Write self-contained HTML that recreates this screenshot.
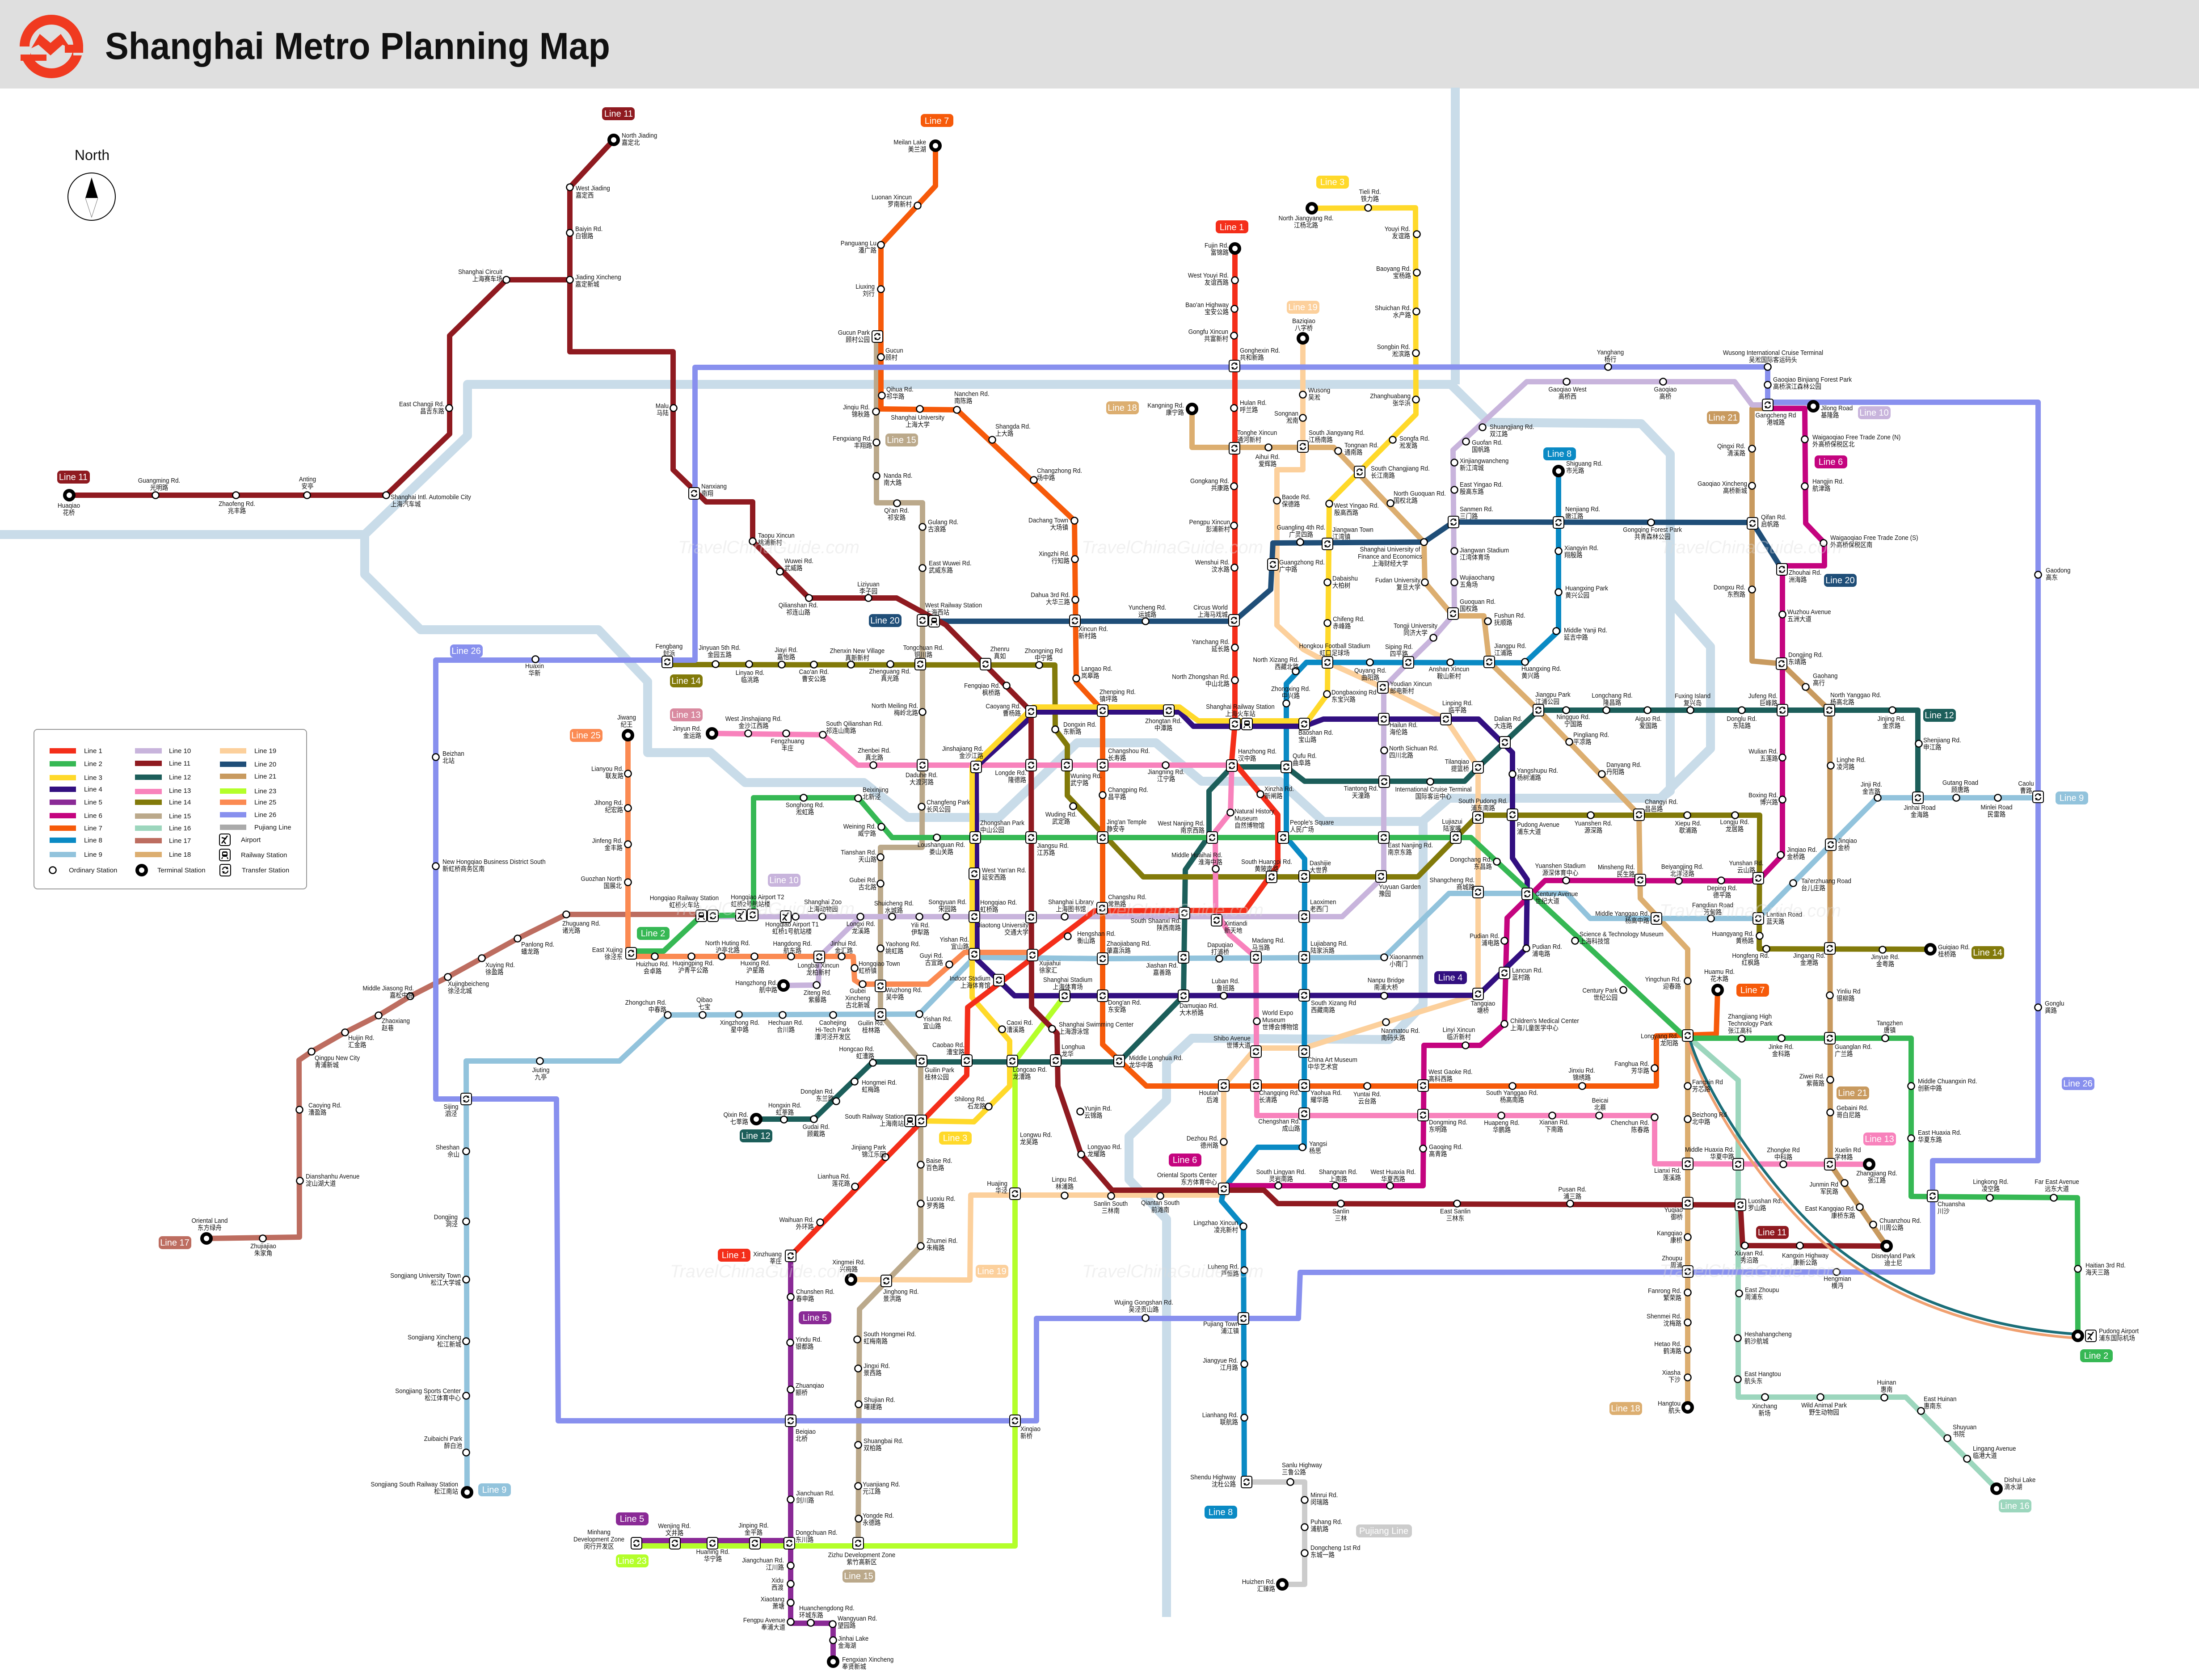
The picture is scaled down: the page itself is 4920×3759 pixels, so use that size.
<!DOCTYPE html>
<html lang="en"><head><meta charset="utf-8"><title>Shanghai Metro Planning Map</title>
<style>
html,body{margin:0;padding:0;background:#fff}
svg{display:block}
text{font-family:"Liberation Sans","Noto Sans CJK SC",sans-serif;font-size:15px;fill:#111;transform-box:fill-box;transform:scaleX(.9);transform-origin:0 50%}
.m{text-anchor:middle;transform-origin:50% 50%}.e{text-anchor:end;transform-origin:100% 50%}
.b text{font-size:20px;fill:#fff;text-anchor:middle;transform:none}
.l path{fill:none;stroke-width:12;stroke-linejoin:round;stroke-linecap:round}
.w text{font-style:italic;font-size:40px;fill:#ddd;fill-opacity:.4;text-anchor:middle;transform:none}
.k text{font-size:15px;transform:none}
</style></head><body>
<svg xmlns="http://www.w3.org/2000/svg" width="4920" height="3759" viewBox="0 0 4920 3759">
<defs>
<circle id="o" r="7.5" fill="#fff" stroke="#000" stroke-width="2.6"/>
<circle id="t" r="10" fill="#fff" stroke="#000" stroke-width="8"/>
<g id="x"><rect x="-12" y="-13" width="24" height="26" rx="4" fill="#fff" stroke="#000" stroke-width="2"/><path d="M-6-1A6 6 0 0 1 5-4M6 1A6 6 0 0 1-5 4" fill="none" stroke="#000" stroke-width="2.4"/><path d="M5-8 7-2 1-3ZM-5 8-7 2-1 3Z"/></g>
<g id="r"><rect x="-12" y="-13" width="24" height="26" rx="4" fill="#fff" stroke="#000" stroke-width="2"/><rect x="-6" y="-8" width="12" height="12" rx="3"/><rect x="-4" y="-5" width="8" height="4" fill="#fff"/><path d="M-5 5-7 9M5 5 7 9" stroke="#000" stroke-width="2"/></g>
<g id="a"><rect x="-12" y="-13" width="24" height="26" rx="4" fill="#fff" stroke="#000" stroke-width="2"/><path d="M6-9 -7 8M-7-5 3-2M-2 4 2 9" stroke="#000" stroke-width="2.6" fill="none"/></g>
</defs>
<rect width="4920" height="3759" fill="#fff"/>
<rect width="4920" height="198" fill="#dfdfdf"/>
<g fill="#f03a20"><circle cx="115" cy="104" r="60" fill="none" stroke="#f03a20" stroke-width="22"/><rect x="38" y="104" width="30" height="18" fill="#dfdfdf"/><rect x="46" y="122" width="58" height="14"/><rect x="145" y="100" width="41" height="18"/><rect x="164" y="118" width="24" height="6" fill="#dfdfdf"/><path d="M70 108 89 76 113 96 136 76 158 108 140 100 113 124 86 100Z"/></g>
<text x="235" y="132" textLength="1130" lengthAdjust="spacingAndGlyphs" style="font-size:84px;font-weight:700;fill:#111;transform:none">Shanghai Metro Planning Map</text>
<text x="206" y="358" class="m" style="font-size:32px;transform:none">North</text>
<circle cx="205" cy="440" r="53" fill="#fff" stroke="#000" stroke-width="2"/><path d="M205 397 191 443H219Z"/><path d="M191 443 205 486 219 443" fill="#fff" stroke="#777"/>

<path fill="none" stroke="#c9dce9" stroke-width="20" stroke-linejoin="round" d="M0 1196 816 1196 1046 975 1046 860 3246 860 3332 945 3672 948 3737 1016 3737 1770 3715 1786 3242 1786 3182 1838 2961 1838 2863 1748 2688 1748 2586 1662 2410 1662 2235 1829 2031 1829 1933 1751 1667 1751 1590 1684 1449 1684 1449 1525 1339 1409 941 1409 816 1285 816 1196M3256 196 3256 860M3715 1786 3827 1675 3827 1447 3737 1345M3184 1838 3184 2248 3108 2326 2667 2323 2610 2377 2610 2462 2526 2543 2526 2639 2610 2728 2610 3618"/>

<g class="l">
<path stroke="#fcd09c" d="M2915 757 2915 1051 2857 1051 2857 1399 2916 1453 2970 1482 3094 1538 3235 1609 3307 1717 3307 2224 3101 2287 2918 2345 2810 2345 2738 2429 2738 2674 2172 2674 2170 2864 1904 2863"/>
<path stroke="#bba98b" d="M1961 753 1961 1125 2064 1125 2064 1593 2063 1896 1970 1896 1970 2270 2049 2361 2060 2380 2060 2788 1923 2929 1920 3453"/>
<path stroke="#9cd6bd" d="M3783 2325 3889 2417 3889 3126 4264 3126 4467 3331"/>
<path stroke="#dcae70" d="M2667 915 2667 1001 2984 1001 3186 1213 3188 1303 3251 1378 3320 1378 3332 1481 3442 1589 3667 1823 3670 2010 3776 2124 3776 3149"/>
<path stroke="#c89a5f" d="M3955 914 3920 914 3920 1479 3986 1485 4093 1589 4094 1589 4095 2605 4221 2788"/>
<path stroke="#c8b4dc" d="M4057 906 3955 906 3920 906 3881 854 3416 854 3251 1007 3254 1373 3207 1427 3151 1482 3096 1538 3096 1961 3003 2051 1595 2051M1925 2051 1833 2141 1831 2204 1753 2205"/>
<path stroke="#b4ff2a" d="M1424 3459 2271 3459 2271 2374 2382 2228"/>
<path stroke="#8a2a96" d="M1424 3447 1769 3447M1769 2810 1769 3632 1864 3632 1864 3718"/>
<path stroke="#bd6d60" d="M1569 2046 1267 2046 1158 2100 1078 2144 1002 2186 918 2229 847 2272 772 2310 697 2353 669 2372 670 2768 462 2771"/>
<path stroke="#92c3dc" d="M1045 3339 1043 2374 1386 2374 1495 2271 2057 2269 2180 2142 2467 2145 3097 2142 3242 1999 3505 1999 3558 2055 3934 2055 4096 1890 4200 1785 4560 1785"/>
<path stroke="#0a8ac4" d="M3487 1054 3487 1412 3412 1483 2923 1482 2878 1530 2878 1874 2919 1922 2918 2567 2814 2567 2738 2660 2733 2687 2782 2744 2784 3316"/>
<path stroke="#c4047f" d="M3955 914 4038 914 4040 1171 4082 1215 4082 1266 3988 1266 3988 1913 3939 1965 3917 1971 3457 1970 3372 2054 3366 2291 3312 2339 3186 2339 3184 2653 2738 2653"/>
<path stroke="#1c5e5a" d="M1692 2504 1821 2504 1953 2376 2362 2376 2504 2376 2648 2228 2652 1946 2705 1870 2705 1770 2756 1716 2878 1716 2919 1748 3277 1748 3307 1717 3442 1589 4291 1589 4291 1785"/>
<path stroke="#827a0a" d="M1493 1487 2360 1488 2361 1632 2388 1668 2388 1780 2558 1962 3172 1962 3307 1824 3937 1824 3936 2123 4319 2124"/>
<path stroke="#f882bc" d="M1593 1641 1841 1644 1919 1712 2756 1712 2753 1818 2719 1861 2720 2037 2751 2091 2810 2142 2812 2496 3702 2496 3702 2604 4182 2605"/>
<path stroke="#fb8a52" d="M1405 1645 1405 2140 1909 2140 1912 2193 1926 2202 2077 2202 2158 2131 2310 2131"/>
<path stroke="#1f4e78" d="M2064 1390 2761 1390 2843 1319 2848 1215 3186 1213 3252 1168 3921 1169 3987 1274"/>
<path stroke="#f65a0a" d="M2093 326 2093 416 1971 548 1971 915 2141 917 2404 1165 2408 1526 2467 1590 2467 2337 2565 2430 3706 2430 3706 2318 3840 2314 3843 2215"/>
<path stroke="#320f80" d="M2307 1604 2184 1716 2186 2147 2270 2228 3307 2227 3415 2122 3417 1968 3384 1920 3384 1684 3308 1609 2961 1609 2918 1625 2670 1625 2639 1593 2310 1593"/>
<path stroke="#ffd92a" d="M2935 466 3167 465 3168 927 2974 1123 2970 1553 2926 1613 2681 1613 2639 1582 2312 1582 2175 1716 2175 2232 2259 2329 2259 2430 2179 2510 2061 2508"/>
<path stroke="#36b854" d="M1412 2128 1485 2128 1569 2049 1686 2047 1686 1785 1920 1785 1996 1874 3291 1874 3773 2323 4276 2323 4276 2677 4648 2680 4649 2989"/>
<path stroke="#f42e1a" d="M2763 556 2763 1620 2756 1700 2859 1823 2859 1936 2786 2037 2449 2038 2165 2254 2163 2406 1769 2810"/>
<path stroke="#8f1a20" d="M155 1108 864 1108 1006 971 1006 751 1133 626 1275 626M1373 313 1275 419 1275 787 1506 787 1506 1051 1580 1123 1684 1123 1684 1211 1810 1338 2006 1338 2116 1398 2307 1592 2308 2254 2365 2312 2367 2430 2419 2583 2488 2663 2828 2663 2859 2693 3894 2696 3899 2787 4221 2788"/>
<path stroke="#8890ee" d="M3955 906 3955 821 1555 822 1555 1477 975 1477 975 2459 1245 2459 1249 3179 2319 3179 2319 2950 2905 2950 2909 2847 4324 2846 4324 2597 4560 2597 4560 900 3955 900"/>
<path stroke="#cccccc" d="M2789 3316 2919 3316 2919 3545 2869 3545"/>
<path stroke="#f0a070" style="stroke-width:6" d="M3776 2330C3825 2490 3985 2710 4113 2808S4425 2978 4645 2994"/>
<path stroke="#1c6e78" style="stroke-width:6" d="M3782 2330C3830 2480 3990 2700 4120 2800S4430 2970 4645 2985"/>
</g>

<g>
<use href="#o" x="348" y="1108"/><use href="#o" x="528" y="1108"/><use href="#o" x="687" y="1108"/><use href="#o" x="864" y="1108"/><use href="#o" x="1005" y="913"/><use href="#o" x="1133" y="626"/><use href="#o" x="1275" y="626"/><use href="#o" x="1275" y="521"/><use href="#o" x="1275" y="419"/><use href="#o" x="1507" y="913"/><use href="#o" x="1684" y="1211"/><use href="#o" x="1745" y="1279"/><use href="#o" x="1810" y="1338"/><use href="#o" x="1943" y="1338"/><use href="#o" x="2252" y="1534"/><use href="#o" x="2354" y="2302"/><use href="#o" x="2417" y="2487"/><use href="#o" x="2419" y="2583"/><use href="#o" x="3000" y="2693"/><use href="#o" x="3260" y="2693"/><use href="#o" x="3513" y="2693"/><use href="#o" x="3904" y="2787"/><use href="#o" x="4027" y="2787"/>
<use href="#o" x="2053" y="460"/><use href="#o" x="1971" y="548"/><use href="#o" x="1971" y="647"/><use href="#o" x="1971" y="799"/><use href="#o" x="1973" y="885"/><use href="#o" x="2058" y="915"/><use href="#o" x="2141" y="917"/><use href="#o" x="2220" y="984"/><use href="#o" x="2313" y="1074"/><use href="#o" x="2404" y="1165"/><use href="#o" x="2405" y="1251"/><use href="#o" x="2406" y="1342"/><use href="#o" x="2408" y="1518"/><use href="#o" x="2467" y="1779"/><use href="#o" x="3059" y="2430"/><use href="#o" x="3384" y="2430"/><use href="#o" x="3540" y="2430"/><use href="#o" x="3702" y="2390"/>
<use href="#o" x="2763" y="627"/><use href="#o" x="2762" y="691"/><use href="#o" x="2761" y="751"/><use href="#o" x="2761" y="913"/><use href="#o" x="2761" y="1088"/><use href="#o" x="2761" y="1176"/><use href="#o" x="2762" y="1270"/><use href="#o" x="2763" y="1449"/><use href="#o" x="2763" y="1522"/><use href="#o" x="2820" y="1777"/><use href="#o" x="2389" y="2095"/><use href="#o" x="1981" y="2589"/><use href="#o" x="1913" y="2655"/><use href="#o" x="1835" y="2735"/>
<use href="#o" x="1798" y="1785"/><use href="#o" x="1920" y="1786"/><use href="#o" x="1972" y="1850"/><use href="#o" x="2096" y="1874"/><use href="#o" x="3349" y="1928"/><use href="#o" x="3524" y="2105"/><use href="#o" x="3632" y="2215"/><use href="#o" x="3897" y="2324"/><use href="#o" x="3986" y="2323"/><use href="#o" x="4218" y="2323"/><use href="#o" x="4276" y="2430"/><use href="#o" x="4276" y="2547"/><use href="#o" x="4452" y="2680"/><use href="#o" x="4595" y="2680"/><use href="#o" x="4649" y="2839"/>
<use href="#o" x="3061" y="465"/><use href="#o" x="3170" y="524"/><use href="#o" x="3170" y="610"/><use href="#o" x="3169" y="697"/><use href="#o" x="3168" y="790"/><use href="#o" x="3168" y="894"/><use href="#o" x="3116" y="984"/><use href="#o" x="2974" y="1127"/><use href="#o" x="2970" y="1303"/><use href="#o" x="2970" y="1394"/><use href="#o" x="2969" y="1553"/><use href="#o" x="2242" y="2303"/><use href="#o" x="2212" y="2476"/>
<use href="#o" x="3384" y="1732"/><use href="#o" x="3415" y="2122"/><use href="#o" x="3097" y="2228"/><use href="#o" x="2738" y="2228"/>
<use href="#o" x="1769" y="2902"/><use href="#o" x="1768" y="3004"/><use href="#o" x="1769" y="3109"/><use href="#o" x="1769" y="3355"/><use href="#o" x="1769" y="3503"/><use href="#o" x="1769" y="3544"/><use href="#o" x="1769" y="3586"/><use href="#o" x="1769" y="3629"/><use href="#o" x="1814" y="3631"/><use href="#o" x="1863" y="3634"/><use href="#o" x="1864" y="3670"/>
<use href="#o" x="4038" y="983"/><use href="#o" x="4038" y="1088"/><use href="#o" x="4080" y="1215"/><use href="#o" x="3988" y="1375"/><use href="#o" x="3988" y="1695"/><use href="#o" x="3988" y="1789"/><use href="#o" x="3984" y="1913"/><use href="#o" x="3851" y="1970"/><use href="#o" x="3756" y="1971"/><use href="#o" x="3504" y="1970"/><use href="#o" x="3366" y="2105"/><use href="#o" x="3366" y="2291"/><use href="#o" x="3279" y="2339"/><use href="#o" x="3184" y="2570"/><use href="#o" x="3110" y="2653"/><use href="#o" x="2988" y="2653"/><use href="#o" x="2860" y="2653"/>
<use href="#o" x="3487" y="1233"/><use href="#o" x="3487" y="1325"/><use href="#o" x="3482" y="1412"/><use href="#o" x="3412" y="1481"/><use href="#o" x="3245" y="1482"/><use href="#o" x="3065" y="1482"/><use href="#o" x="2899" y="1502"/><use href="#o" x="2878" y="1574"/><use href="#o" x="2914" y="2567"/><use href="#o" x="2782" y="2744"/><use href="#o" x="2784" y="2842"/><use href="#o" x="2784" y="3052"/><use href="#o" x="2784" y="3172"/>
<use href="#o" x="2887" y="3316"/><use href="#o" x="2919" y="3356"/><use href="#o" x="2919" y="3417"/><use href="#o" x="2919" y="3475"/>
<use href="#o" x="1043" y="3250"/><use href="#o" x="1043" y="3123"/><use href="#o" x="1043" y="3001"/><use href="#o" x="1043" y="2863"/><use href="#o" x="1043" y="2733"/><use href="#o" x="1043" y="2576"/><use href="#o" x="1208" y="2374"/><use href="#o" x="1494" y="2271"/><use href="#o" x="1572" y="2271"/><use href="#o" x="1653" y="2270"/><use href="#o" x="1751" y="2271"/><use href="#o" x="1864" y="2271"/><use href="#o" x="2057" y="2269"/><use href="#o" x="2728" y="2145"/><use href="#o" x="3097" y="2142"/><use href="#o" x="3828" y="2055"/><use href="#o" x="4012" y="1976"/><use href="#o" x="4201" y="1785"/><use href="#o" x="4377" y="1785"/><use href="#o" x="4470" y="1785"/>
<use href="#o" x="3505" y="854"/><use href="#o" x="3721" y="854"/><use href="#o" x="3317" y="956"/><use href="#o" x="3280" y="988"/><use href="#o" x="3254" y="1035"/><use href="#o" x="3254" y="1096"/><use href="#o" x="3254" y="1233"/><use href="#o" x="3254" y="1303"/><use href="#o" x="3207" y="1427"/><use href="#o" x="3097" y="1679"/><use href="#o" x="2382" y="2051"/><use href="#o" x="2117" y="2051"/><use href="#o" x="2057" y="2051"/><use href="#o" x="1996" y="2051"/><use href="#o" x="1925" y="2051"/><use href="#o" x="1840" y="2051"/><use href="#o" x="1780" y="2051"/><use href="#o" x="1827" y="2204"/>
<use href="#o" x="1754" y="2505"/><use href="#o" x="1821" y="2504"/><use href="#o" x="1871" y="2464"/><use href="#o" x="1912" y="2420"/><use href="#o" x="1953" y="2378"/><use href="#o" x="3200" y="1749"/><use href="#o" x="3504" y="1589"/><use href="#o" x="3594" y="1589"/><use href="#o" x="3686" y="1589"/><use href="#o" x="3782" y="1589"/><use href="#o" x="3897" y="1589"/><use href="#o" x="4234" y="1589"/><use href="#o" x="4293" y="1664"/>
<use href="#o" x="1674" y="1641"/><use href="#o" x="1759" y="1641"/><use href="#o" x="1841" y="1644"/><use href="#o" x="1954" y="1712"/><use href="#o" x="2608" y="1712"/><use href="#o" x="2753" y="1818"/><use href="#o" x="2720" y="1944"/><use href="#o" x="2812" y="2285"/><use href="#o" x="3359" y="2496"/><use href="#o" x="3473" y="2496"/><use href="#o" x="3578" y="2496"/><use href="#o" x="3702" y="2500"/><use href="#o" x="3990" y="2605"/>
<use href="#o" x="1601" y="1486"/><use href="#o" x="1676" y="1486"/><use href="#o" x="1749" y="1487"/><use href="#o" x="1821" y="1487"/><use href="#o" x="1904" y="1487"/><use href="#o" x="1992" y="1486"/><use href="#o" x="2325" y="1488"/><use href="#o" x="2361" y="1632"/><use href="#o" x="2401" y="1804"/><use href="#o" x="3559" y="1824"/><use href="#o" x="3775" y="1824"/><use href="#o" x="3882" y="1824"/><use href="#o" x="3937" y="2094"/><use href="#o" x="3952" y="2123"/><use href="#o" x="4212" y="2125"/>
<use href="#o" x="1960" y="921"/><use href="#o" x="1961" y="990"/><use href="#o" x="1961" y="1065"/><use href="#o" x="2007" y="1126"/><use href="#o" x="2064" y="1179"/><use href="#o" x="2064" y="1271"/><use href="#o" x="2064" y="1593"/><use href="#o" x="2062" y="1805"/><use href="#o" x="1970" y="1918"/><use href="#o" x="1970" y="1977"/><use href="#o" x="1970" y="2122"/><use href="#o" x="2060" y="2606"/><use href="#o" x="2060" y="2693"/><use href="#o" x="2060" y="2788"/><use href="#o" x="1918" y="2997"/><use href="#o" x="1920" y="3062"/><use href="#o" x="1921" y="3142"/><use href="#o" x="1920" y="3233"/><use href="#o" x="1920" y="3325"/><use href="#o" x="1921" y="3398"/>
<use href="#o" x="3891" y="2894"/><use href="#o" x="3888" y="2994"/><use href="#o" x="3888" y="3086"/><use href="#o" x="3949" y="3126"/><use href="#o" x="4073" y="3126"/><use href="#o" x="4216" y="3127"/><use href="#o" x="4298" y="3157"/><use href="#o" x="4357" y="3218"/><use href="#o" x="4401" y="3264"/>
<use href="#o" x="1267" y="2046"/><use href="#o" x="1158" y="2100"/><use href="#o" x="1078" y="2144"/><use href="#o" x="1002" y="2186"/><use href="#o" x="918" y="2229"/><use href="#o" x="847" y="2272"/><use href="#o" x="772" y="2310"/><use href="#o" x="697" y="2353"/><use href="#o" x="670" y="2483"/><use href="#o" x="671" y="2642"/><use href="#o" x="588" y="2771"/>
<use href="#o" x="2838" y="1001"/><use href="#o" x="2994" y="1009"/><use href="#o" x="3111" y="1126"/><use href="#o" x="3186" y="1213"/><use href="#o" x="3188" y="1303"/><use href="#o" x="3329" y="1390"/><use href="#o" x="3511" y="1660"/><use href="#o" x="3584" y="1732"/><use href="#o" x="3776" y="2195"/><use href="#o" x="3776" y="2430"/><use href="#o" x="3776" y="2504"/><use href="#o" x="3776" y="2768"/><use href="#o" x="3776" y="2892"/><use href="#o" x="3776" y="2959"/><use href="#o" x="3776" y="3020"/><use href="#o" x="3776" y="3082"/>
<use href="#o" x="2915" y="883"/><use href="#o" x="2915" y="935"/><use href="#o" x="2857" y="1120"/><use href="#o" x="3101" y="2287"/><use href="#o" x="2738" y="2555"/><use href="#o" x="2596" y="2676"/><use href="#o" x="2486" y="2676"/><use href="#o" x="2382" y="2675"/>
<use href="#o" x="3694" y="1169"/><use href="#o" x="2909" y="1213"/><use href="#o" x="2563" y="1390"/>
<use href="#o" x="3920" y="1004"/><use href="#o" x="3920" y="1087"/><use href="#o" x="3920" y="1319"/><use href="#o" x="4040" y="1537"/><use href="#o" x="4096" y="1713"/><use href="#o" x="4094" y="2227"/><use href="#o" x="4095" y="2416"/><use href="#o" x="4095" y="2489"/><use href="#o" x="4127" y="2647"/><use href="#o" x="4161" y="2701"/><use href="#o" x="4191" y="2740"/>
<use href="#o" x="1405" y="1731"/><use href="#o" x="1405" y="1808"/><use href="#o" x="1405" y="1889"/><use href="#o" x="1405" y="1974"/><use href="#o" x="1465" y="2140"/><use href="#o" x="1547" y="2140"/><use href="#o" x="1615" y="2140"/><use href="#o" x="1688" y="2140"/><use href="#o" x="1770" y="2140"/><use href="#o" x="1883" y="2140"/><use href="#o" x="1912" y="2166"/><use href="#o" x="1930" y="2202"/><use href="#o" x="2124" y="2158"/>
<use href="#o" x="3598" y="821"/><use href="#o" x="3955" y="821"/><use href="#o" x="3955" y="861"/><use href="#o" x="4560" y="1286"/><use href="#o" x="4560" y="2254"/><use href="#o" x="4109" y="2846"/><use href="#o" x="2563" y="2949"/><use href="#o" x="975" y="1938"/><use href="#o" x="975" y="1694"/><use href="#o" x="1198" y="1475"/>

<use href="#t" x="155" y="1108"/><use href="#t" x="1373" y="313"/><use href="#t" x="4221" y="2788"/><use href="#t" x="2093" y="326"/><use href="#t" x="3843" y="2215"/><use href="#t" x="2763" y="556"/><use href="#t" x="4649" y="2989"/><use href="#t" x="2935" y="466"/><use href="#t" x="1864" y="3718"/><use href="#t" x="4057" y="909"/><use href="#t" x="3487" y="1054"/><use href="#t" x="2869" y="3545"/><use href="#t" x="1045" y="3339"/><use href="#t" x="1753" y="2205"/><use href="#t" x="1692" y="2504"/><use href="#t" x="1593" y="1641"/><use href="#t" x="4182" y="2605"/><use href="#t" x="4319" y="2124"/><use href="#t" x="4467" y="3331"/><use href="#t" x="462" y="2771"/><use href="#t" x="2667" y="915"/><use href="#t" x="3776" y="3149"/><use href="#t" x="2915" y="757"/><use href="#t" x="1904" y="2863"/><use href="#t" x="1405" y="1645"/>

<use href="#x" x="1553" y="1104"/><use href="#x" x="1963" y="753"/><use href="#x" x="2762" y="819"/><use href="#x" x="2762" y="1003"/><use href="#x" x="2915" y="999"/><use href="#x" x="3042" y="1056"/><use href="#x" x="3252" y="1168"/><use href="#x" x="2970" y="1217"/><use href="#x" x="2848" y="1263"/><use href="#x" x="3251" y="1373"/><use href="#x" x="2761" y="1388"/><use href="#x" x="2405" y="1389"/><use href="#x" x="2064" y="1388"/><use href="#x" x="3955" y="906"/><use href="#x" x="3487" y="1169"/><use href="#x" x="3921" y="1171"/><use href="#x" x="3987" y="1274"/><use href="#x" x="3986" y="1485"/><use href="#x" x="3332" y="1481"/><use href="#x" x="3442" y="1589"/><use href="#x" x="3988" y="1589"/><use href="#x" x="4093" y="1589"/><use href="#x" x="3367" y="1661"/><use href="#x" x="3307" y="1717"/><use href="#x" x="3307" y="1829"/><use href="#x" x="3384" y="1823"/><use href="#x" x="3667" y="1823"/><use href="#x" x="3257" y="1874"/><use href="#x" x="3417" y="2000"/><use href="#x" x="3670" y="1969"/><use href="#x" x="3934" y="1965"/><use href="#x" x="3706" y="2055"/><use href="#x" x="3934" y="2055"/><use href="#x" x="4096" y="1890"/><use href="#x" x="4291" y="1785"/><use href="#x" x="4560" y="1783"/><use href="#x" x="4094" y="2122"/><use href="#x" x="4094" y="2323"/><use href="#x" x="3776" y="2317"/><use href="#x" x="3776" y="2604"/><use href="#x" x="3889" y="2605"/><use href="#x" x="4094" y="2605"/><use href="#x" x="3894" y="2696"/><use href="#x" x="3776" y="2692"/><use href="#x" x="3776" y="2845"/><use href="#x" x="4324" y="2676"/>
<use href="#x" x="1493" y="1481"/><use href="#x" x="2059" y="1486"/><use href="#x" x="2205" y="1486"/><use href="#x" x="2307" y="1592"/><use href="#x" x="2467" y="1590"/><use href="#x" x="2615" y="1590"/><use href="#x" x="2763" y="1620"/><use href="#x" x="2918" y="1620"/><use href="#x" x="3096" y="1609"/><use href="#x" x="3235" y="1609"/><use href="#x" x="2970" y="1482"/><use href="#x" x="3151" y="1482"/><use href="#x" x="3094" y="1538"/><use href="#x" x="2184" y="1716"/><use href="#x" x="2064" y="1712"/><use href="#x" x="2307" y="1712"/><use href="#x" x="2387" y="1712"/><use href="#x" x="2467" y="1712"/><use href="#x" x="2756" y="1713"/><use href="#x" x="2878" y="1716"/><use href="#x" x="3097" y="1749"/><use href="#x" x="2182" y="1874"/><use href="#x" x="2307" y="1874"/><use href="#x" x="2467" y="1874"/><use href="#x" x="2712" y="1874"/><use href="#x" x="2871" y="1874"/><use href="#x" x="3096" y="1874"/><use href="#x" x="2180" y="1955"/><use href="#x" x="2180" y="2051"/><use href="#x" x="2307" y="2052"/><use href="#x" x="2466" y="2032"/><use href="#x" x="2650" y="2043"/><use href="#x" x="2918" y="2051"/><use href="#x" x="2722" y="2059"/><use href="#x" x="2845" y="1962"/><use href="#x" x="2918" y="1961"/><use href="#x" x="3090" y="1961"/><use href="#x" x="3307" y="1996"/><use href="#x" x="2180" y="2135"/><use href="#x" x="2310" y="2137"/><use href="#x" x="2467" y="2145"/><use href="#x" x="2648" y="2142"/><use href="#x" x="2810" y="2142"/><use href="#x" x="2918" y="2142"/><use href="#x" x="3366" y="2177"/><use href="#x" x="3307" y="2224"/><use href="#x" x="2648" y="2228"/><use href="#x" x="2467" y="2228"/><use href="#x" x="2918" y="2227"/><use href="#x" x="2235" y="2193"/><use href="#x" x="2382" y="2228"/><use href="#x" x="1833" y="2141"/><use href="#x" x="1970" y="2206"/><use href="#x" x="1970" y="2270"/><use href="#x" x="2062" y="2374"/><use href="#x" x="2163" y="2373"/><use href="#x" x="2265" y="2374"/><use href="#x" x="2362" y="2373"/><use href="#x" x="2504" y="2374"/><use href="#x" x="2061" y="2508"/><use href="#x" x="2918" y="2353"/><use href="#x" x="2810" y="2353"/><use href="#x" x="2738" y="2429"/><use href="#x" x="2810" y="2429"/><use href="#x" x="2918" y="2429"/><use href="#x" x="3184" y="2429"/><use href="#x" x="2918" y="2492"/><use href="#x" x="3184" y="2495"/><use href="#x" x="2738" y="2660"/><use href="#x" x="2271" y="2671"/><use href="#x" x="1983" y="2866"/><use href="#x" x="1769" y="2810"/><use href="#x" x="1769" y="3179"/><use href="#x" x="2271" y="3179"/><use href="#x" x="1766" y="3453"/><use href="#x" x="1424" y="3453"/><use href="#x" x="1510" y="3453"/><use href="#x" x="1594" y="3453"/><use href="#x" x="1689" y="3453"/><use href="#x" x="1920" y="3453"/><use href="#x" x="2782" y="2950"/><use href="#x" x="2789" y="3316"/><use href="#x" x="1412" y="2133"/><use href="#x" x="1595" y="2049"/><use href="#x" x="1684" y="2047"/><use href="#x" x="1043" y="2459"/>
<use href="#r" x="1569" y="2049"/><use href="#r" x="2090" y="1390"/><use href="#r" x="2790" y="1620"/><use href="#r" x="2036" y="2508"/>
<use href="#a" x="1658" y="2048"/><use href="#a" x="1758" y="2051"/><use href="#a" x="4678" y="2989"/>
</g>

<g class="b">
<rect x="1347" y="240" width="73" height="29" rx="8" fill="#8f1a20"/><text x="1384" y="261">Line 11</text>
<rect x="128" y="1053" width="73" height="29" rx="8" fill="#8f1a20"/><text x="164" y="1074">Line 11</text>
<rect x="2060" y="255" width="73" height="29" rx="8" fill="#f65a0a"/><text x="2096" y="277">Line 7</text>
<rect x="2475" y="898" width="73" height="29" rx="8" fill="#dcae70"/><text x="2511" y="919">Line 18</text>
<rect x="2720" y="493" width="73" height="29" rx="8" fill="#f42e1a"/><text x="2756" y="515">Line 1</text>
<rect x="2879" y="673" width="73" height="29" rx="8" fill="#fcd09c"/><text x="2915" y="694">Line 19</text>
<rect x="2945" y="393" width="73" height="29" rx="8" fill="#ffd92a"/><text x="2981" y="414">Line 3</text>
<rect x="1981" y="970" width="73" height="29" rx="8" fill="#bba98b"/><text x="2017" y="991">Line 15</text>
<rect x="1944" y="1374" width="73" height="29" rx="8" fill="#1f4e78"/><text x="1980" y="1395">Line 20</text>
<rect x="3819" y="920" width="73" height="29" rx="8" fill="#c89a5f"/><text x="3855" y="941">Line 21</text>
<rect x="4157" y="909" width="73" height="29" rx="8" fill="#c8b4dc"/><text x="4193" y="930">Line 10</text>
<rect x="4060" y="1019" width="73" height="29" rx="8" fill="#c4047f"/><text x="4096" y="1040">Line 6</text>
<rect x="3453" y="1001" width="73" height="29" rx="8" fill="#0a8ac4"/><text x="3489" y="1022">Line 8</text>
<rect x="4081" y="1284" width="73" height="29" rx="8" fill="#1f4e78"/><text x="4117" y="1305">Line 20</text>
<rect x="4303" y="1586" width="73" height="29" rx="8" fill="#1c5e5a"/><text x="4339" y="1607">Line 12</text>
<rect x="4599" y="1771" width="73" height="29" rx="8" fill="#92c3dc"/><text x="4635" y="1792">Line 9</text>
<rect x="4411" y="2117" width="73" height="29" rx="8" fill="#827a0a"/><text x="4447" y="2138">Line 14</text>
<rect x="3885" y="2201" width="73" height="29" rx="8" fill="#f65a0a"/><text x="3921" y="2222">Line 7</text>
<rect x="4109" y="2431" width="73" height="29" rx="8" fill="#c89a5f"/><text x="4145" y="2452">Line 21</text>
<rect x="4613" y="2410" width="73" height="29" rx="8" fill="#8890ee"/><text x="4649" y="2431">Line 26</text>
<rect x="4169" y="2534" width="73" height="29" rx="8" fill="#f882bc"/><text x="4205" y="2555">Line 13</text>
<rect x="3929" y="2743" width="73" height="29" rx="8" fill="#8f1a20"/><text x="3965" y="2764">Line 11</text>
<rect x="4654" y="3019" width="73" height="29" rx="8" fill="#36b854"/><text x="4690" y="3040">Line 2</text>
<rect x="3601" y="3137" width="73" height="29" rx="8" fill="#dcae70"/><text x="3637" y="3158">Line 18</text>
<rect x="4472" y="3355" width="73" height="29" rx="8" fill="#9cd6bd"/><text x="4508" y="3376">Line 16</text>
<rect x="2695" y="3369" width="73" height="29" rx="8" fill="#0a8ac4"/><text x="2731" y="3390">Line 8</text>
<rect x="3034" y="3411" width="125" height="29" rx="8" fill="#cccccc"/><text x="3096" y="3432">Pujiang Line</text>
<rect x="355" y="2766" width="73" height="29" rx="8" fill="#bd6d60"/><text x="391" y="2787">Line 17</text>
<rect x="1070" y="3319" width="73" height="29" rx="8" fill="#92c3dc"/><text x="1106" y="3340">Line 9</text>
<rect x="1378" y="3384" width="73" height="29" rx="8" fill="#8a2a96"/><text x="1414" y="3405">Line 5</text>
<rect x="1378" y="3478" width="73" height="29" rx="8" fill="#b4ff2a"/><text x="1414" y="3499">Line 23</text>
<rect x="1787" y="2934" width="73" height="29" rx="8" fill="#8a2a96"/><text x="1823" y="2955">Line 5</text>
<rect x="1885" y="3512" width="73" height="29" rx="8" fill="#bba98b"/><text x="1921" y="3533">Line 15</text>
<rect x="1606" y="2794" width="73" height="29" rx="8" fill="#f42e1a"/><text x="1642" y="2815">Line 1</text>
<rect x="2183" y="2830" width="73" height="29" rx="8" fill="#fcd09c"/><text x="2219" y="2851">Line 19</text>
<rect x="2101" y="2532" width="73" height="29" rx="8" fill="#ffd92a"/><text x="2137" y="2553">Line 3</text>
<rect x="1655" y="2527" width="73" height="29" rx="8" fill="#1c5e5a"/><text x="1691" y="2548">Line 12</text>
<rect x="1499" y="1509" width="73" height="29" rx="8" fill="#827a0a"/><text x="1535" y="1530">Line 14</text>
<rect x="1499" y="1585" width="73" height="29" rx="8" fill="#d98aa0"/><text x="1535" y="1606">Line 13</text>
<rect x="1718" y="1955" width="73" height="29" rx="8" fill="#c8b4dc"/><text x="1754" y="1976">Line 10</text>
<rect x="1425" y="2074" width="73" height="29" rx="8" fill="#36b854"/><text x="1461" y="2095">Line 2</text>
<rect x="3209" y="2173" width="73" height="29" rx="8" fill="#320f80"/><text x="3245" y="2194">Line 4</text>
<rect x="2615" y="2581" width="73" height="29" rx="8" fill="#c4047f"/><text x="2651" y="2602">Line 6</text>
<rect x="1007" y="1442" width="73" height="29" rx="8" fill="#8890ee"/><text x="1043" y="1463">Line 26</text>
<rect x="1275" y="1631" width="73" height="29" rx="8" fill="#fb8a52"/><text x="1311" y="1652">Line 25</text>
</g>

<g>
<text x="356" y="1080" class="m">Guangming Rd.<tspan x="356" dy="16">光明路</tspan></text>
<text x="530" y="1132" class="m">Zhaofeng Rd.<tspan x="530" dy="16">兆丰路</tspan></text>
<text x="688" y="1077" class="m">Anting<tspan x="688" dy="16">安亭</tspan></text>
<text x="154" y="1136" class="m">Huaqiao<tspan x="154" dy="16">花桥</tspan></text>
<text x="874" y="1117">Shanghai Intl. Automobile City<tspan x="874" dy="16">上海汽车城</tspan></text>
<text x="994" y="909" class="e">East Changji Rd.<tspan x="994" dy="16">昌吉东路</tspan></text>
<text x="1124" y="613" class="e">Shanghai Circuit<tspan x="1124" dy="16">上海赛车场</tspan></text>
<text x="1287" y="625">Jiading Xincheng<tspan x="1287" dy="16">嘉定新城</tspan></text>
<text x="1287" y="517">Baiyin Rd.<tspan x="1287" dy="16">白银路</tspan></text>
<text x="1288" y="426">West Jiading<tspan x="1288" dy="16">嘉定西</tspan></text>
<text x="1391" y="308">North Jiading<tspan x="1391" dy="16">嘉定北</tspan></text>
<text x="1496" y="913" class="e">Malu<tspan x="1496" dy="16">马陆</tspan></text>
<text x="1569" y="1093">Nanxiang<tspan x="1569" dy="16">南翔</tspan></text>
<text x="2072" y="323" class="e">Meilan Lake<tspan x="2072" dy="16">美兰湖</tspan></text>
<text x="2040" y="446" class="e">Luonan Xincun<tspan x="2040" dy="16">罗南新村</tspan></text>
<text x="1961" y="549" class="e">Panguang Lu<tspan x="1961" dy="16">潘广路</tspan></text>
<text x="1957" y="646" class="e">Liuxing<tspan x="1957" dy="16">刘行</tspan></text>
<text x="1946" y="749" class="e">Gucun Park<tspan x="1946" dy="16">顾村公园</tspan></text>
<text x="1981" y="789">Gucun<tspan x="1981" dy="16">顾村</tspan></text>
<text x="1983" y="876">Qihua Rd.<tspan x="1983" dy="16">祁华路</tspan></text>
<text x="1946" y="916" class="e">Jinqiu Rd.<tspan x="1946" dy="16">锦秋路</tspan></text>
<text x="2053" y="939" class="m">Shanghai University<tspan x="2053" dy="16">上海大学</tspan></text>
<text x="2135" y="886">Nanchen Rd.<tspan x="2135" dy="16">南陈路</tspan></text>
<text x="1951" y="986" class="e">Fengxiang Rd.<tspan x="1951" dy="16">丰翔路</tspan></text>
<text x="2227" y="959">Shangda Rd.<tspan x="2227" dy="16">上大路</tspan></text>
<text x="1977" y="1069">Nanda Rd.<tspan x="1977" dy="16">南大路</tspan></text>
<text x="2320" y="1058">Changzhong Rd.<tspan x="2320" dy="16">场中路</tspan></text>
<text x="2006" y="1147" class="m">Qi'an Rd.<tspan x="2006" dy="16">祁安路</tspan></text>
<text x="2076" y="1173">Gulang Rd.<tspan x="2076" dy="16">古浪路</tspan></text>
<text x="2078" y="1265">East Wuwei Rd.<tspan x="2078" dy="16">武威东路</tspan></text>
<text x="2390" y="1169" class="e">Dachang Town<tspan x="2390" dy="16">大场镇</tspan></text>
<text x="2393" y="1244" class="e">Xingzhi Rd.<tspan x="2393" dy="16">行知路</tspan></text>
<text x="2394" y="1336" class="e">Dahua 3rd Rd.<tspan x="2394" dy="16">大华三路</tspan></text>
<text x="2413" y="1412">Xincun Rd.<tspan x="2413" dy="16">新村路</tspan></text>
<text x="2070" y="1359">West Railway Station<tspan x="2070" dy="16">上海西站</tspan></text>
<text x="1943" y="1312" class="m">Liziyuan<tspan x="1943" dy="16">李子园</tspan></text>
<text x="1786" y="1359" class="m">Qilianshan Rd.<tspan x="1786" dy="16">祁连山路</tspan></text>
<text x="1755" y="1260">Wuwei Rd.<tspan x="1755" dy="16">武威路</tspan></text>
<text x="1696" y="1203">Taopu Xincun<tspan x="1696" dy="16">桃浦新村</tspan></text>
<text x="2567" y="1364" class="m">Yuncheng Rd.<tspan x="2567" dy="16">运城路</tspan></text>
<text x="2747" y="1364" class="e">Circus World<tspan x="2747" dy="16">上海马戏城</tspan></text>
<text x="2751" y="1441" class="e">Yanchang Rd.<tspan x="2751" dy="16">延长路</tspan></text>
<text x="2749" y="554" class="e">Fujin Rd.<tspan x="2749" dy="16">富锦路</tspan></text>
<text x="2749" y="621" class="e">West Youyi Rd.<tspan x="2749" dy="16">友谊西路</tspan></text>
<text x="2749" y="687" class="e">Bao'an Highway<tspan x="2749" dy="16">宝安公路</tspan></text>
<text x="2748" y="747" class="e">Gongfu Xincun<tspan x="2748" dy="16">共富新村</tspan></text>
<text x="2774" y="789">Gonghexin Rd.<tspan x="2774" dy="16">共和新路</tspan></text>
<text x="2774" y="906">Hulan Rd.<tspan x="2774" dy="16">呼兰路</tspan></text>
<text x="2768" y="973">Tonghe Xincun<tspan x="2768" dy="16">通河新村</tspan></text>
<text x="2836" y="1027" class="m">Aihui Rd.<tspan x="2836" dy="16">爱辉路</tspan></text>
<text x="2750" y="1081" class="e">Gongkang Rd.<tspan x="2750" dy="16">共康路</tspan></text>
<text x="2752" y="1173" class="e">Pengpu Xincun<tspan x="2752" dy="16">彭浦新村</tspan></text>
<text x="2751" y="1263" class="e">Wenshui Rd.<tspan x="2751" dy="16">汶水路</tspan></text>
<text x="2649" y="912" class="e">Kangning Rd.<tspan x="2649" dy="16">康宁路</tspan></text>
<text x="2917" y="723" class="m">Baziqiao<tspan x="2917" dy="16">八字桥</tspan></text>
<text x="2922" y="493" class="m">North Jiangyang Rd.<tspan x="2922" dy="16">江杨北路</tspan></text>
<text x="3065" y="434" class="m">Tieli Rd.<tspan x="3065" dy="16">铁力路</tspan></text>
<text x="3155" y="517" class="e">Youyi Rd.<tspan x="3155" dy="16">友谊路</tspan></text>
<text x="3157" y="606" class="e">Baoyang Rd.<tspan x="3157" dy="16">宝杨路</tspan></text>
<text x="3157" y="694" class="e">Shuichan Rd.<tspan x="3157" dy="16">水产路</tspan></text>
<text x="3155" y="781" class="e">Songbin Rd.<tspan x="3155" dy="16">淞滨路</tspan></text>
<text x="3156" y="891" class="e">Zhanghuabang<tspan x="3156" dy="16">张华浜</tspan></text>
<text x="2927" y="878">Wusong<tspan x="2927" dy="16">吴淞</tspan></text>
<text x="2905" y="930" class="e">Songnan<tspan x="2905" dy="16">淞南</tspan></text>
<text x="2928" y="973">South Jiangyang Rd.<tspan x="2928" dy="16">江杨南路</tspan></text>
<text x="3131" y="986">Songfa Rd.<tspan x="3131" dy="16">淞发路</tspan></text>
<text x="3008" y="1001">Tongnan Rd.<tspan x="3008" dy="16">通南路</tspan></text>
<text x="3067" y="1053">South Changjiang Rd.<tspan x="3067" dy="16">长江南路</tspan></text>
<text x="2868" y="1117">Baode Rd.<tspan x="2868" dy="16">保德路</tspan></text>
<text x="3118" y="1109">North Guoquan Rd.<tspan x="3118" dy="16">国权北路</tspan></text>
<text x="2985" y="1136">West Yingao Rd.<tspan x="2985" dy="16">殷高西路</tspan></text>
<text x="2911" y="1185" class="m">Guangling 4th Rd.<tspan x="2911" dy="16">广灵四路</tspan></text>
<text x="2981" y="1190">Jiangwan Town<tspan x="2981" dy="16">江湾镇</tspan></text>
<text x="3110" y="1234" class="m">Shanghai University of<tspan x="3110" dy="16">Finance and Economics</tspan><tspan x="3110" dy="16">上海财经大学</tspan></text>
<text x="2862" y="1263">Guangzhong Rd.<tspan x="2862" dy="16">广中路</tspan></text>
<text x="2981" y="1299">Dabaishu<tspan x="2981" dy="16">大柏树</tspan></text>
<text x="3178" y="1303" class="e">Fudan University<tspan x="3178" dy="16">复旦大学</tspan></text>
<text x="2982" y="1390">Chifeng Rd.<tspan x="2982" dy="16">赤峰路</tspan></text>
<text x="2986" y="1450" class="m">Hongkou Football Stadium<tspan x="2986" dy="16">虹口足球场</tspan></text>
<text x="3167" y="1405" class="m">Tongji University<tspan x="3167" dy="16">同济大学</tspan></text>
<text x="3130" y="1452" class="m">Siping Rd.<tspan x="3130" dy="16">四平路</tspan></text>
<text x="3603" y="793" class="m">Yanghang<tspan x="3603" dy="16">杨行</tspan></text>
<text x="3967" y="794" class="m">Wusong International Cruise Terminal<tspan x="3967" dy="16">吴淞国际客运码头</tspan></text>
<text x="3967" y="854">Gaoqiao Binjiang Forest Park<tspan x="3967" dy="16">高桥滨江森林公园</tspan></text>
<text x="3507" y="876" class="m">Gaoqiao West<tspan x="3507" dy="16">高桥西</tspan></text>
<text x="3726" y="876" class="m">Gaoqiao<tspan x="3726" dy="16">高桥</tspan></text>
<text x="4074" y="918">Jilong Road<tspan x="4074" dy="16">基隆路</tspan></text>
<text x="3973" y="934" class="m">Gangcheng Rd<tspan x="3973" dy="16">港城路</tspan></text>
<text x="3504" y="1042">Shiguang Rd.<tspan x="3504" dy="16">市光路</tspan></text>
<text x="3333" y="960">Shuangjiang Rd.<tspan x="3333" dy="16">双江路</tspan></text>
<text x="3293" y="995">Guofan Rd.<tspan x="3293" dy="16">国帆路</tspan></text>
<text x="3266" y="1036">Xinjiangwancheng<tspan x="3266" dy="16">新江湾城</tspan></text>
<text x="3266" y="1089">East Yingao Rd.<tspan x="3266" dy="16">殷高东路</tspan></text>
<text x="3266" y="1144">Sanmen Rd.<tspan x="3266" dy="16">三门路</tspan></text>
<text x="3266" y="1236">Jiangwan Stadium<tspan x="3266" dy="16">江湾体育场</tspan></text>
<text x="3266" y="1297">Wujiaochang<tspan x="3266" dy="16">五角场</tspan></text>
<text x="3266" y="1351">Guoquan Rd.<tspan x="3266" dy="16">国权路</tspan></text>
<text x="3502" y="1144">Nenjiang Rd.<tspan x="3502" dy="16">嫩江路</tspan></text>
<text x="3697" y="1190" class="m">Gongqing Forest Park<tspan x="3697" dy="16">共青森林公园</tspan></text>
<text x="3905" y="1003" class="e">Qingxi Rd.<tspan x="3905" dy="16">清溪路</tspan></text>
<text x="3909" y="1087" class="e">Gaoqiao Xincheng<tspan x="3909" dy="16">高桥新城</tspan></text>
<text x="4055" y="983">Waigaoqiao Free Trade Zone (N)<tspan x="4055" dy="16">外高桥保税区北</tspan></text>
<text x="4055" y="1082">Hangjin Rd.<tspan x="4055" dy="16">航津路</tspan></text>
<text x="3940" y="1162">Qifan Rd.<tspan x="3940" dy="16">启帆路</tspan></text>
<text x="4095" y="1208">Waigaoqiao Free Trade Zone (S)<tspan x="4095" dy="16">外高桥保税区南</tspan></text>
<text x="3500" y="1231">Xiangyin Rd.<tspan x="3500" dy="16">翔殷路</tspan></text>
<text x="3502" y="1321">Huangxing Park<tspan x="3502" dy="16">黄兴公园</tspan></text>
<text x="3499" y="1415">Middle Yanji Rd.<tspan x="3499" dy="16">延吉中路</tspan></text>
<text x="3343" y="1382">Fushun Rd.<tspan x="3343" dy="16">抚顺路</tspan></text>
<text x="3343" y="1450">Jiangpu Rd.<tspan x="3343" dy="16">江浦路</tspan></text>
<text x="3404" y="1501">Huangxing Rd.<tspan x="3404" dy="16">黄兴路</tspan></text>
<text x="4002" y="1286">Zhouhai Rd.<tspan x="4002" dy="16">洲海路</tspan></text>
<text x="3905" y="1319" class="e">Dongxu Rd.<tspan x="3905" dy="16">东煦路</tspan></text>
<text x="3999" y="1374">Wuzhou Avenue<tspan x="3999" dy="16">五洲大道</tspan></text>
<text x="4001" y="1470">Dongjing Rd.<tspan x="4001" dy="16">东靖路</tspan></text>
<text x="4056" y="1517">Gaohang<tspan x="4056" dy="16">高行</tspan></text>
<text x="4095" y="1560">North Yanggao Rd.<tspan x="4095" dy="16">杨高北路</tspan></text>
<text x="4232" y="1613" class="m">Jinjing Rd.<tspan x="4232" dy="16">金京路</tspan></text>
<text x="4303" y="1661">Shenjiang Rd.<tspan x="4303" dy="16">申江路</tspan></text>
<text x="4577" y="1281">Gaodong<tspan x="4577" dy="16">高东</tspan></text>
<text x="3435" y="1559">Jiangpu Park<tspan x="3435" dy="16">江浦公园</tspan></text>
<text x="3607" y="1561" class="m">Longchang Rd.<tspan x="3607" dy="16">隆昌路</tspan></text>
<text x="3787" y="1562" class="m">Fuxing Island<tspan x="3787" dy="16">复兴岛</tspan></text>
<text x="3977" y="1562" class="e">Jufeng Rd.<tspan x="3977" dy="16">巨峰路</tspan></text>
<text x="3520" y="1609" class="m">Ningguo Rd.<tspan x="3520" dy="16">宁国路</tspan></text>
<text x="3688" y="1613" class="m">Aiguo Rd.<tspan x="3688" dy="16">爱国路</tspan></text>
<text x="3897" y="1613" class="m">Donglu Rd.<tspan x="3897" dy="16">东陆路</tspan></text>
<text x="3343" y="1613">Dalian Rd.<tspan x="3343" dy="16">大连路</tspan></text>
<text x="3520" y="1649">Pingliang Rd.<tspan x="3520" dy="16">平凉路</tspan></text>
<text x="3394" y="1729">Yangshupu Rd.<tspan x="3394" dy="16">杨树浦路</tspan></text>
<text x="3978" y="1686" class="e">Wulian Rd.<tspan x="3978" dy="16">五莲路</tspan></text>
<text x="4109" y="1705">Linghe Rd.<tspan x="4109" dy="16">凌河路</tspan></text>
<text x="3594" y="1716">Danyang Rd.<tspan x="3594" dy="16">丹阳路</tspan></text>
<text x="4187" y="1760" class="m">Jinji Rd.<tspan x="4187" dy="16">金吉路</tspan></text>
<text x="4386" y="1756" class="m">Gutang Road<tspan x="4386" dy="16">顾唐路</tspan></text>
<text x="4533" y="1758" class="m">Caolu<tspan x="4533" dy="16">曹路</tspan></text>
<text x="3978" y="1784" class="e">Boxing Rd.<tspan x="3978" dy="16">博兴路</tspan></text>
<text x="4295" y="1812" class="m">Jinhai Road<tspan x="4295" dy="16">金海路</tspan></text>
<text x="4467" y="1811" class="m">Minlei Road<tspan x="4467" dy="16">民雷路</tspan></text>
<text x="3680" y="1799">Changyi Rd.<tspan x="3680" dy="16">昌邑路</tspan></text>
<text x="3318" y="1797" class="m">South Pudong Rd.<tspan x="3318" dy="16">浦东南路</tspan></text>
<text x="3394" y="1850">Pudong Avenue<tspan x="3394" dy="16">浦东大道</tspan></text>
<text x="3565" y="1847" class="m">Yuanshen Rd.<tspan x="3565" dy="16">源深路</tspan></text>
<text x="3777" y="1847" class="m">Xiepu Rd.<tspan x="3777" dy="16">歇浦路</tspan></text>
<text x="3881" y="1844" class="m">Longju Rd.<tspan x="3881" dy="16">龙居路</tspan></text>
<text x="4112" y="1886">Jinqiao<tspan x="4112" dy="16">金桥</tspan></text>
<text x="3998" y="1906">Jinqiao Rd.<tspan x="3998" dy="16">金桥路</tspan></text>
<text x="3249" y="1843" class="m">Lujiazui<tspan x="3249" dy="16">陆家嘴</tspan></text>
<text x="3491" y="1942" class="m">Yuanshen Stadium<tspan x="3491" dy="16">源深体育中心</tspan></text>
<text x="3658" y="1945" class="e">Minsheng Rd.<tspan x="3658" dy="16">民生路</tspan></text>
<text x="3764" y="1944" class="m">Beiyangjing Rd.<tspan x="3764" dy="16">北洋泾路</tspan></text>
<text x="3907" y="1936" class="m">Yunshan Rd.<tspan x="3907" dy="16">云山路</tspan></text>
<text x="3853" y="1992" class="m">Deping Rd.<tspan x="3853" dy="16">德平路</tspan></text>
<text x="4030" y="1976">Tai'erzhuang Road<tspan x="4030" dy="16">台儿庄路</tspan></text>
<text x="3435" y="2005">Century Avenue<tspan x="3435" dy="16">世纪大道</tspan></text>
<text x="3832" y="2030" class="m">Fangdian Road<tspan x="3832" dy="16">芳甸路</tspan></text>
<text x="3690" y="2049" class="e">Middle Yanggao Rd.<tspan x="3690" dy="16">杨高中路</tspan></text>
<text x="3952" y="2051">Lantian Road<tspan x="3952" dy="16">蓝天路</tspan></text>
<text x="3924" y="2094" class="e">Huangyang Rd.<tspan x="3924" dy="16">黄杨路</tspan></text>
<text x="3534" y="2095">Science &amp; Technology Museum<tspan x="3534" dy="16">上海科技馆</tspan></text>
<text x="3428" y="2123">Pudian Rd.<tspan x="3428" dy="16">浦电路</tspan></text>
<text x="4336" y="2124">Guiqiao Rd.<tspan x="4336" dy="16">桂桥路</tspan></text>
<text x="3917" y="2143" class="m">Hongfeng Rd.<tspan x="3917" dy="16">红枫路</tspan></text>
<text x="4048" y="2143" class="m">Jingang Rd.<tspan x="4048" dy="16">金港路</tspan></text>
<text x="4218" y="2146" class="m">Jinyue Rd.<tspan x="4218" dy="16">金粤路</tspan></text>
<text x="3847" y="2179" class="m">Huamu Rd.<tspan x="3847" dy="16">花木路</tspan></text>
<text x="3761" y="2196" class="e">Yingchun Rd.<tspan x="3761" dy="16">迎春路</tspan></text>
<text x="4109" y="2223">Yinliu Rd<tspan x="4109" dy="16">银柳路</tspan></text>
<text x="3619" y="2221" class="e">Century Park<tspan x="3619" dy="16">世纪公园</tspan></text>
<text x="3866" y="2279">Zhangjiang High<tspan x="3866" dy="16">Technology Park</tspan><tspan x="3866" dy="16">张江高科</tspan></text>
<text x="4228" y="2294" class="m">Tangzhen<tspan x="4228" dy="16">唐镇</tspan></text>
<text x="3379" y="2289">Children's Medical Center<tspan x="3379" dy="16">上海儿童医学中心</tspan></text>
<text x="3755" y="2323" class="e">Longyang Rd.<tspan x="3755" dy="16">龙阳路</tspan></text>
<text x="3985" y="2347" class="m">Jinke Rd.<tspan x="3985" dy="16">金科路</tspan></text>
<text x="4105" y="2347">Guanglan Rd.<tspan x="4105" dy="16">广兰路</tspan></text>
<text x="3690" y="2385" class="e">Fanghua Rd.<tspan x="3690" dy="16">芳华路</tspan></text>
<text x="3539" y="2400" class="m">Jinxiu Rd.<tspan x="3539" dy="16">锦绣路</tspan></text>
<text x="4082" y="2413" class="e">Ziwei Rd.<tspan x="4082" dy="16">紫薇路</tspan></text>
<text x="3786" y="2426">Fangxin Rd<tspan x="3786" dy="16">芳芯路</tspan></text>
<text x="4291" y="2424">Middle Chuangxin Rd.<tspan x="4291" dy="16">创新中路</tspan></text>
<text x="3580" y="2467" class="m">Beicai<tspan x="3580" dy="16">北蔡</tspan></text>
<text x="4109" y="2484">Gebaini Rd.<tspan x="4109" dy="16">哥白尼路</tspan></text>
<text x="3786" y="2499">Beizhong Rd<tspan x="3786" dy="16">北中路</tspan></text>
<text x="3477" y="2516" class="m">Xianan Rd.<tspan x="3477" dy="16">下南路</tspan></text>
<text x="3690" y="2517" class="e">Chenchun Rd.<tspan x="3690" dy="16">陈春路</tspan></text>
<text x="4291" y="2539">East Huaxia Rd.<tspan x="4291" dy="16">华夏东路</tspan></text>
<text x="3880" y="2577" class="e">Middle Huaxia Rd.<tspan x="3880" dy="16">华夏中路</tspan></text>
<text x="3990" y="2578" class="m">Zhongke Rd<tspan x="3990" dy="16">中科路</tspan></text>
<text x="4105" y="2578">Xuelin Rd<tspan x="4105" dy="16">学林路</tspan></text>
<text x="3761" y="2624" class="e">Lianxi Rd.<tspan x="3761" dy="16">莲溪路</tspan></text>
<text x="4199" y="2630" class="m">Zhangjiang Rd.<tspan x="4199" dy="16">张江路</tspan></text>
<text x="4113" y="2655" class="e">Junmin Rd<tspan x="4113" dy="16">军民路</tspan></text>
<text x="3518" y="2666" class="m">Pusan Rd.<tspan x="3518" dy="16">浦三路</tspan></text>
<text x="4454" y="2649" class="m">Lingkong Rd.<tspan x="4454" dy="16">凌空路</tspan></text>
<text x="4602" y="2649" class="m">Far East Avenue<tspan x="4602" dy="16">远东大道</tspan></text>
<text x="3911" y="2692">Luoshan Rd.<tspan x="3911" dy="16">罗山路</tspan></text>
<text x="4335" y="2699">Chuansha<tspan x="4335" dy="16">川沙</tspan></text>
<text x="3765" y="2712" class="e">Yuqiao<tspan x="3765" dy="16">御桥</tspan></text>
<text x="4151" y="2709" class="e">East Kangqiao Rd.<tspan x="4151" dy="16">康桥东路</tspan></text>
<text x="4205" y="2736">Chuanzhou Rd.<tspan x="4205" dy="16">川周公路</tspan></text>
<text x="3764" y="2764" class="e">Kangqiao<tspan x="3764" dy="16">康桥</tspan></text>
<text x="3914" y="2809" class="m">Xiuyan Rd.<tspan x="3914" dy="16">秀沿路</tspan></text>
<text x="4039" y="2814" class="m">Kangxin Highway<tspan x="4039" dy="16">康新公路</tspan></text>
<text x="4236" y="2815" class="m">Disneyland Park<tspan x="4236" dy="16">迪士尼</tspan></text>
<text x="3764" y="2820" class="e">Zhoupu<tspan x="3764" dy="16">周浦</tspan></text>
<text x="4666" y="2836">Haitian 3rd Rd.<tspan x="4666" dy="16">海天三路</tspan></text>
<text x="4111" y="2866" class="m">Hengmian<tspan x="4111" dy="16">横沔</tspan></text>
<text x="3904" y="2891">East Zhoupu<tspan x="3904" dy="16">周浦东</tspan></text>
<text x="3762" y="2893" class="e">Fanrong Rd.<tspan x="3762" dy="16">繁荣路</tspan></text>
<text x="3762" y="2950" class="e">Shenmei Rd.<tspan x="3762" dy="16">沈梅路</tspan></text>
<text x="3903" y="2990">Heshahangcheng<tspan x="3903" dy="16">鹤沙航城</tspan></text>
<text x="3762" y="3012" class="e">Hetao Rd.<tspan x="3762" dy="16">鹤涛路</tspan></text>
<text x="4696" y="2983">Pudong Airport<tspan x="4696" dy="16">浦东国际机场</tspan></text>
<text x="4575" y="2250">Gonglu<tspan x="4575" dy="16">龚路</tspan></text>
<text x="3760" y="3076" class="e">Xiasha<tspan x="3760" dy="16">下沙</tspan></text>
<text x="3760" y="3145" class="e">Hangtou<tspan x="3760" dy="16">航头</tspan></text>
<text x="3903" y="3079">East Hangtou<tspan x="3903" dy="16">航头东</tspan></text>
<text x="3948" y="3151" class="m">Xinchang<tspan x="3948" dy="16">新场</tspan></text>
<text x="4081" y="3149" class="m">Wild Animal Park<tspan x="4081" dy="16">野生动物园</tspan></text>
<text x="4221" y="3098" class="m">Huinan<tspan x="4221" dy="16">惠南</tspan></text>
<text x="4304" y="3135">East Huinan<tspan x="4304" dy="16">惠南东</tspan></text>
<text x="4369" y="3198">Shuyuan<tspan x="4369" dy="16">书院</tspan></text>
<text x="4414" y="3246">Lingang Avenue<tspan x="4414" dy="16">临港大道</tspan></text>
<text x="4484" y="3316">Dishui Lake<tspan x="4484" dy="16">滴水湖</tspan></text>
<text x="2770" y="3049" class="e">Jiangyue Rd.<tspan x="2770" dy="16">江月路</tspan></text>
<text x="2770" y="3171" class="e">Lianhang Rd.<tspan x="2770" dy="16">联航路</tspan></text>
<text x="2765" y="3310" class="e">Shendu Highway<tspan x="2765" dy="16">沈杜公路</tspan></text>
<text x="2868" y="3283">Sanlu Highway<tspan x="2868" dy="16">三鲁公路</tspan></text>
<text x="2932" y="3350">Minrui Rd.<tspan x="2932" dy="16">闵瑞路</tspan></text>
<text x="2932" y="3410">Puhang Rd.<tspan x="2932" dy="16">浦航路</tspan></text>
<text x="2932" y="3468">Dongcheng 1st Rd<tspan x="2932" dy="16">东城一路</tspan></text>
<text x="2853" y="3544" class="e">Huizhen Rd.<tspan x="2853" dy="16">汇臻路</tspan></text>
<text x="684" y="2637">Dianshanhu Avenue<tspan x="684" dy="16">淀山湖大道</tspan></text>
<text x="469" y="2736" class="m">Oriental Land<tspan x="469" dy="16">东方绿舟</tspan></text>
<text x="589" y="2793" class="m">Zhujiajiao<tspan x="589" dy="16">朱家角</tspan></text>
<text x="1028" y="2572" class="e">Sheshan<tspan x="1028" dy="16">佘山</tspan></text>
<text x="1024" y="2728" class="e">Dongjing<tspan x="1024" dy="16">洞泾</tspan></text>
<text x="1031" y="2859" class="e">Songjiang University Town<tspan x="1031" dy="16">松江大学城</tspan></text>
<text x="1032" y="2997" class="e">Songjiang Xincheng<tspan x="1032" dy="16">松江新城</tspan></text>
<text x="1031" y="3117" class="e">Songjiang Sports Center<tspan x="1031" dy="16">松江体育中心</tspan></text>
<text x="1034" y="3224" class="e">Zuibaichi Park<tspan x="1034" dy="16">醉白池</tspan></text>
<text x="1025" y="3326" class="e">Songjiang South Railway Station<tspan x="1025" dy="16">松江南站</tspan></text>
<text x="1340" y="3433" class="m">Minhang<tspan x="1340" dy="16">Development Zone</tspan><tspan x="1340" dy="16">闵行开发区</tspan></text>
<text x="1509" y="3419" class="m">Wenjing Rd.<tspan x="1509" dy="16">文井路</tspan></text>
<text x="1686" y="3418" class="m">Jinping Rd.<tspan x="1686" dy="16">金平路</tspan></text>
<text x="1780" y="3434">Dongchuan Rd.<tspan x="1780" dy="16">东川路</tspan></text>
<text x="1595" y="3477" class="m">Huaning Rd.<tspan x="1595" dy="16">华宁路</tspan></text>
<text x="1928" y="3484" class="m">Zizhu Development Zone<tspan x="1928" dy="16">紫竹高新区</tspan></text>
<text x="1754" y="3496" class="e">Jiangchuan Rd.<tspan x="1754" dy="16">江川路</tspan></text>
<text x="1753" y="3541" class="e">Xidu<tspan x="1753" dy="16">西渡</tspan></text>
<text x="1755" y="3583" class="e">Xiaotang<tspan x="1755" dy="16">萧塘</tspan></text>
<text x="1788" y="3603">Huanchengdong Rd.<tspan x="1788" dy="16">环城东路</tspan></text>
<text x="1874" y="3626">Wangyuan Rd.<tspan x="1874" dy="16">望园路</tspan></text>
<text x="1757" y="3630" class="e">Fengpu Avenue<tspan x="1757" dy="16">奉浦大道</tspan></text>
<text x="1875" y="3671">Jinhai Lake<tspan x="1875" dy="16">金海湖</tspan></text>
<text x="1884" y="3718">Fengxian Xincheng<tspan x="1884" dy="16">奉贤新城</tspan></text>
<text x="1781" y="3346">Jianchuan Rd.<tspan x="1781" dy="16">剑川路</tspan></text>
<text x="1780" y="3208">Beiqiao<tspan x="1780" dy="16">北桥</tspan></text>
<text x="2283" y="3202">Xinqiao<tspan x="2283" dy="16">新桥</tspan></text>
<text x="1780" y="3105">Zhuanqiao<tspan x="1780" dy="16">颛桥</tspan></text>
<text x="1780" y="3002">Yindu Rd.<tspan x="1780" dy="16">银都路</tspan></text>
<text x="1932" y="2990">South Hongmei Rd.<tspan x="1932" dy="16">虹梅南路</tspan></text>
<text x="1932" y="3061">Jingxi Rd.<tspan x="1932" dy="16">景西路</tspan></text>
<text x="1933" y="3137">Shujian Rd.<tspan x="1933" dy="16">曙建路</tspan></text>
<text x="1932" y="3229">Shuangbai Rd.<tspan x="1932" dy="16">双柏路</tspan></text>
<text x="1930" y="3326">Yuanjiang Rd.<tspan x="1930" dy="16">元江路</tspan></text>
<text x="1930" y="3396">Yongde Rd.<tspan x="1930" dy="16">永德路</tspan></text>
<text x="1781" y="2895">Chunshen Rd.<tspan x="1781" dy="16">春申路</tspan></text>
<text x="1749" y="2811" class="e">Xinzhuang<tspan x="1749" dy="16">莘庄</tspan></text>
<text x="1899" y="2829" class="m">Xingmei Rd.<tspan x="1899" dy="16">兴梅路</tspan></text>
<text x="1976" y="2895">Jinghong Rd.<tspan x="1976" dy="16">景洪路</tspan></text>
<text x="2073" y="2781">Zhumei Rd.<tspan x="2073" dy="16">朱梅路</tspan></text>
<text x="2073" y="2687">Luoxiu Rd.<tspan x="2073" dy="16">罗秀路</tspan></text>
<text x="2072" y="2602">Baise Rd.<tspan x="2072" dy="16">百色路</tspan></text>
<text x="2282" y="2544">Longwu Rd.<tspan x="2282" dy="16">龙吴路</tspan></text>
<text x="1674" y="2499" class="e">Qixin Rd.<tspan x="1674" dy="16">七莘路</tspan></text>
<text x="1756" y="2478" class="m">Hongxin Rd.<tspan x="1756" dy="16">虹莘路</tspan></text>
<text x="1826" y="2526" class="m">Gudai Rd.<tspan x="1826" dy="16">顾戴路</tspan></text>
<text x="1866" y="2447" class="e">Donglan Rd.<tspan x="1866" dy="16">东兰路</tspan></text>
<text x="1928" y="2427">Hongmei Rd.<tspan x="1928" dy="16">虹梅路</tspan></text>
<text x="1956" y="2352" class="e">Hongcao Rd.<tspan x="1956" dy="16">虹漕路</tspan></text>
<text x="1982" y="2572" class="e">Jinjiang Park<tspan x="1982" dy="16">锦江乐园</tspan></text>
<text x="1902" y="2637" class="e">Lianhua Rd.<tspan x="1902" dy="16">莲花路</tspan></text>
<text x="1821" y="2734" class="e">Waihuan Rd.<tspan x="1821" dy="16">外环路</tspan></text>
<text x="2022" y="2503" class="e">South Railway Station<tspan x="2022" dy="16">上海南站</tspan></text>
<text x="2069" y="2399">Guilin Park<tspan x="2069" dy="16">桂林公园</tspan></text>
<text x="1949" y="2294" class="m">Guilin Rd.<tspan x="1949" dy="16">桂林路</tspan></text>
<text x="1863" y="2293" class="m">Caohejing<tspan x="1863" dy="16">Hi-Tech Park</tspan><tspan x="1863" dy="16">漕河泾开发区</tspan></text>
<text x="1758" y="2293" class="m">Hechuan Rd.<tspan x="1758" dy="16">合川路</tspan></text>
<text x="1655" y="2293" class="m">Xingzhong Rd.<tspan x="1655" dy="16">星中路</tspan></text>
<text x="1576" y="2242" class="m">Qibao<tspan x="1576" dy="16">七宝</tspan></text>
<text x="1491" y="2248" class="e">Zhongchun Rd.<tspan x="1491" dy="16">中春路</tspan></text>
<text x="2065" y="2285">Yishan Rd.<tspan x="2065" dy="16">宜山路</tspan></text>
<text x="2158" y="2343" class="e">Caobao Rd.<tspan x="2158" dy="16">漕宝路</tspan></text>
<text x="2252" y="2293">Caoxi Rd.<tspan x="2252" dy="16">漕溪路</tspan></text>
<text x="2266" y="2398">Longcao Rd.<tspan x="2266" dy="16">龙漕路</tspan></text>
<text x="2205" y="2464" class="e">Shilong Rd.<tspan x="2205" dy="16">石龙路</tspan></text>
<text x="2375" y="2347">Longhua<tspan x="2375" dy="16">龙华</tspan></text>
<text x="2426" y="2485">Yunjin Rd.<tspan x="2426" dy="16">云锦路</tspan></text>
<text x="2433" y="2571">Longyao Rd.<tspan x="2433" dy="16">龙耀路</tspan></text>
<text x="2382" y="2644" class="m">Linpu Rd.<tspan x="2382" dy="16">林浦路</tspan></text>
<text x="2254" y="2653" class="e">Huajing<tspan x="2254" dy="16">华泾</tspan></text>
<text x="2485" y="2698" class="m">Sanlin South<tspan x="2485" dy="16">三林南</tspan></text>
<text x="2596" y="2696" class="m">Qiantan South<tspan x="2596" dy="16">前滩南</tspan></text>
<text x="1829" y="2226" class="m">Ziteng Rd.<tspan x="1829" dy="16">紫藤路</tspan></text>
<text x="1919" y="2222" class="m">Gubei<tspan x="1919" dy="16">Xincheng</tspan><tspan x="1919" dy="16">古北新城</tspan></text>
<text x="1982" y="2220">Wuzhong Rd.<tspan x="1982" dy="16">吴中路</tspan></text>
<text x="1739" y="2204" class="e">Hangzhong Rd.<tspan x="1739" dy="16">航中路</tspan></text>
<text x="2369" y="2297">Shanghai Swimming Center<tspan x="2369" dy="16">上海游泳馆</tspan></text>
<text x="2479" y="2248">Dong'an Rd.<tspan x="2479" dy="16">东安路</tspan></text>
<text x="2639" y="2255">Damuqiao Rd.<tspan x="2639" dy="16">大木桥路</tspan></text>
<text x="2526" y="2372">Middle Longhua Rd.<tspan x="2526" dy="16">龙华中路</tspan></text>
<text x="1497" y="1451" class="m">Fengbang<tspan x="1497" dy="16">封浜</tspan></text>
<text x="1610" y="1454" class="m">Jinyuan 5th Rd.<tspan x="1610" dy="16">金园五路</tspan></text>
<text x="1759" y="1459" class="m">Jiayi Rd.<tspan x="1759" dy="16">嘉怡路</tspan></text>
<text x="1918" y="1461" class="m">Zhenxin New Village<tspan x="1918" dy="16">真新新村</tspan></text>
<text x="2066" y="1454" class="m">Tongchuan Rd.<tspan x="2066" dy="16">铜川路</tspan></text>
<text x="2237" y="1457" class="m">Zhenru<tspan x="2237" dy="16">真如</tspan></text>
<text x="2335" y="1461" class="m">Zhongning Rd<tspan x="2335" dy="16">中宁路</tspan></text>
<text x="1678" y="1510" class="m">Linyao Rd.<tspan x="1678" dy="16">临洮路</tspan></text>
<text x="1821" y="1508" class="m">Cao'an Rd.<tspan x="1821" dy="16">曹安公路</tspan></text>
<text x="1991" y="1507" class="m">Zhenguang Rd.<tspan x="1991" dy="16">真光路</tspan></text>
<text x="2238" y="1539" class="e">Fengqiao Rd.<tspan x="2238" dy="16">枫桥路</tspan></text>
<text x="2419" y="1501">Langao Rd.<tspan x="2419" dy="16">岚皋路</tspan></text>
<text x="2054" y="1584" class="e">North Meiling Rd.<tspan x="2054" dy="16">梅岭北路</tspan></text>
<text x="2284" y="1585" class="e">Caoyang Rd.<tspan x="2284" dy="16">曹杨路</tspan></text>
<text x="2379" y="1626">Dongxin Rd.<tspan x="2379" dy="16">东新路</tspan></text>
<text x="2460" y="1553">Zhenping Rd.<tspan x="2460" dy="16">镇坪路</tspan></text>
<text x="1569" y="1635" class="e">Jinyun Rd.<tspan x="1569" dy="16">金运路</tspan></text>
<text x="1686" y="1613" class="m">West Jinshajiang Rd.<tspan x="1686" dy="16">金沙江西路</tspan></text>
<text x="1762" y="1663" class="m">Fengzhuang<tspan x="1762" dy="16">丰庄</tspan></text>
<text x="1848" y="1624">South Qilianshan Rd.<tspan x="1848" dy="16">祁连山南路</tspan></text>
<text x="1956" y="1684" class="m">Zhenbei Rd.<tspan x="1956" dy="16">真北路</tspan></text>
<text x="2200" y="1680" class="e">Jinshajiang Rd.<tspan x="2200" dy="16">金沙江路</tspan></text>
<text x="2062" y="1739" class="m">Daduhe Rd.<tspan x="2062" dy="16">大渡河路</tspan></text>
<text x="2296" y="1734" class="e">Longde Rd.<tspan x="2296" dy="16">隆德路</tspan></text>
<text x="2395" y="1741">Wuning Rd.<tspan x="2395" dy="16">武宁路</tspan></text>
<text x="2479" y="1685">Changshou Rd.<tspan x="2479" dy="16">长寿路</tspan></text>
<text x="2479" y="1772">Changping Rd.<tspan x="2479" dy="16">昌平路</tspan></text>
<text x="1930" y="1772">Beixinjing<tspan x="1930" dy="16">北新泾</tspan></text>
<text x="1801" y="1806" class="m">Songhong Rd.<tspan x="1801" dy="16">淞虹路</tspan></text>
<text x="2073" y="1800">Changfeng Park<tspan x="2073" dy="16">长风公园</tspan></text>
<text x="2374" y="1827" class="m">Wuding Rd.<tspan x="2374" dy="16">武定路</tspan></text>
<text x="2193" y="1846">Zhongshan Park<tspan x="2193" dy="16">中山公园</tspan></text>
<text x="1960" y="1854" class="e">Weining Rd.<tspan x="1960" dy="16">威宁路</tspan></text>
<text x="2476" y="1844">Jing'an Temple<tspan x="2476" dy="16">静安寺</tspan></text>
<text x="2106" y="1895" class="m">Loushanguan Rd.<tspan x="2106" dy="16">娄山关路</tspan></text>
<text x="2320" y="1897">Jiangsu Rd.<tspan x="2320" dy="16">江苏路</tspan></text>
<text x="1961" y="1912" class="e">Tianshan Rd.<tspan x="1961" dy="16">天山路</tspan></text>
<text x="2197" y="1952">West Yan'an Rd.<tspan x="2197" dy="16">延安西路</tspan></text>
<text x="1961" y="1974" class="e">Gubei Rd.<tspan x="1961" dy="16">古北路</tspan></text>
<text x="1531" y="2014" class="m">Hongqiao Railway Station<tspan x="1531" dy="16">虹桥火车站</tspan></text>
<text x="1635" y="2012">Hongqiao Airport T2<tspan x="1635" dy="16">虹桥2号航站楼</tspan></text>
<text x="1841" y="2023" class="m">Shanghai Zoo<tspan x="1841" dy="16">上海动物园</tspan></text>
<text x="2000" y="2026" class="m">Shuicheng Rd.<tspan x="2000" dy="16">水城路</tspan></text>
<text x="2120" y="2023" class="m">Songyuan Rd.<tspan x="2120" dy="16">宋园路</tspan></text>
<text x="2193" y="2024">Hongqiao Rd.<tspan x="2193" dy="16">虹桥路</tspan></text>
<text x="2396" y="2023" class="m">Shanghai Library<tspan x="2396" dy="16">上海图书馆</tspan></text>
<text x="2479" y="2012">Changshu Rd.<tspan x="2479" dy="16">常熟路</tspan></text>
<text x="1772" y="2073" class="m">Hongqiao Airport T1<tspan x="1772" dy="16">虹桥1号航站楼</tspan></text>
<text x="1926" y="2072" class="m">Longxi Rd.<tspan x="1926" dy="16">龙溪路</tspan></text>
<text x="2059" y="2075" class="m">Yili Rd.<tspan x="2059" dy="16">伊犁路</tspan></text>
<text x="2301" y="2075" class="e">Jiaotong University<tspan x="2301" dy="16">交通大学</tspan></text>
<text x="1628" y="2115" class="m">North Huting Rd.<tspan x="1628" dy="16">沪亭北路</tspan></text>
<text x="1773" y="2116" class="m">Hangdong Rd.<tspan x="1773" dy="16">航东路</tspan></text>
<text x="1888" y="2116" class="m">Jinhui Rd.<tspan x="1888" dy="16">金汇路</tspan></text>
<text x="1981" y="2117">Yaohong Rd.<tspan x="1981" dy="16">姚虹路</tspan></text>
<text x="2168" y="2107" class="e">Yishan Rd.<tspan x="2168" dy="16">宜山路</tspan></text>
<text x="2110" y="2143" class="e">Guyi Rd.<tspan x="2110" dy="16">古宜路</tspan></text>
<text x="2410" y="2094">Hengshan Rd.<tspan x="2410" dy="16">衡山路</tspan></text>
<text x="2476" y="2116">Zhaojiabang Rd.<tspan x="2476" dy="16">肇嘉浜路</tspan></text>
<text x="2325" y="2160">Xujiahui<tspan x="2325" dy="16">徐家汇</tspan></text>
<text x="1831" y="2165" class="m">Longbai Xincun<tspan x="1831" dy="16">龙柏新村</tspan></text>
<text x="1921" y="2161">Hongqiao Town<tspan x="1921" dy="16">虹桥镇</tspan></text>
<text x="1460" y="2162" class="m">Huizhuo Rd.<tspan x="1460" dy="16">会卓路</tspan></text>
<text x="1551" y="2160" class="m">Huqingping Rd.<tspan x="1551" dy="16">沪青平公路</tspan></text>
<text x="1690" y="2160" class="m">Huxing Rd.<tspan x="1690" dy="16">沪星路</tspan></text>
<text x="2216" y="2194" class="e">Indoor Stadium<tspan x="2216" dy="16">上海体育馆</tspan></text>
<text x="2389" y="2197" class="m">Shanghai Stadium<tspan x="2389" dy="16">上海体育场</tspan></text>
<text x="1393" y="2130" class="e">East Xujing<tspan x="1393" dy="16">徐泾东</tspan></text>
<text x="1196" y="1495" class="m">Huaxin<tspan x="1196" dy="16">华新</tspan></text>
<text x="1402" y="1610" class="m">Jiwang<tspan x="1402" dy="16">纪王</tspan></text>
<text x="990" y="1691">Beizhan<tspan x="990" dy="16">北站</tspan></text>
<text x="1395" y="1725" class="e">Lianyou Rd.<tspan x="1395" dy="16">联友路</tspan></text>
<text x="1394" y="1801" class="e">Jihong Rd.<tspan x="1394" dy="16">纪宏路</tspan></text>
<text x="1393" y="1886" class="e">Jinfeng Rd.<tspan x="1393" dy="16">金丰路</tspan></text>
<text x="1391" y="1971" class="e">Guozhan North<tspan x="1391" dy="16">国展北</tspan></text>
<text x="990" y="1933">New Hongqiao Business District South<tspan x="990" dy="16">新虹桥商务区南</tspan></text>
<text x="1258" y="2071">Zhuguang Rd.<tspan x="1258" dy="16">诸光路</tspan></text>
<text x="1166" y="2118">Panlong Rd.<tspan x="1166" dy="16">蟠龙路</tspan></text>
<text x="1086" y="2164">Xuying Rd.<tspan x="1086" dy="16">徐盈路</tspan></text>
<text x="1002" y="2206">Xujingbeicheng<tspan x="1002" dy="16">徐泾北城</tspan></text>
<text x="926" y="2216" class="e">Middle Jiasong Rd.<tspan x="926" dy="16">嘉松中路</tspan></text>
<text x="854" y="2289">Zhaoxiang<tspan x="854" dy="16">赵巷</tspan></text>
<text x="779" y="2327">Huijin Rd.<tspan x="779" dy="16">汇金路</tspan></text>
<text x="704" y="2372">Qingpu New City<tspan x="704" dy="16">青浦新城</tspan></text>
<text x="690" y="2478">Caoying Rd.<tspan x="690" dy="16">漕盈路</tspan></text>
<text x="1210" y="2399" class="m">Jiuting<tspan x="1210" dy="16">九亭</tspan></text>
<text x="1009" y="2481" class="m">Sijing<tspan x="1009" dy="16">泗泾</tspan></text>
<text x="2906" y="1481" class="e">North Xizang Rd.<tspan x="2906" dy="16">西藏北路</tspan></text>
<text x="2751" y="1519" class="e">North Zhongshan Rd.<tspan x="2751" dy="16">中山北路</tspan></text>
<text x="3066" y="1505" class="m">Quyang Rd.<tspan x="3066" dy="16">曲阳路</tspan></text>
<text x="3242" y="1502" class="m">Anshan Xincun<tspan x="3242" dy="16">鞍山新村</tspan></text>
<text x="2888" y="1546" class="m">Zhongxing Rd.<tspan x="2888" dy="16">中兴路</tspan></text>
<text x="3110" y="1535">Youdian Xincun<tspan x="3110" dy="16">邮电新村</tspan></text>
<text x="2979" y="1554">Dongbaoxing Rd<tspan x="2979" dy="16">东宝兴路</tspan></text>
<text x="3261" y="1578" class="m">Linping Rd.<tspan x="3261" dy="16">临平路</tspan></text>
<text x="2775" y="1586" class="m">Shanghai Railway Station<tspan x="2775" dy="16">上海火车站</tspan></text>
<text x="2603" y="1618" class="m">Zhongtan Rd.<tspan x="2603" dy="16">中潭路</tspan></text>
<text x="2905" y="1644">Baoshan Rd.<tspan x="2905" dy="16">宝山路</tspan></text>
<text x="3109" y="1627">Hailun Rd.<tspan x="3109" dy="16">海伦路</tspan></text>
<text x="3108" y="1679">North Sichuan Rd.<tspan x="3108" dy="16">四川北路</tspan></text>
<text x="2770" y="1686">Hanzhong Rd.<tspan x="2770" dy="16">汉中路</tspan></text>
<text x="2892" y="1696">Qufu Rd.<tspan x="2892" dy="16">曲阜路</tspan></text>
<text x="3287" y="1709" class="e">Tilanqiao<tspan x="3287" dy="16">提篮桥</tspan></text>
<text x="2609" y="1732" class="m">Jiangning Rd.<tspan x="2609" dy="16">江宁路</tspan></text>
<text x="3045" y="1769" class="m">Tiantong Rd.<tspan x="3045" dy="16">天潼路</tspan></text>
<text x="3207" y="1771" class="m">International Cruise Terminal<tspan x="3207" dy="16">国际客运中心</tspan></text>
<text x="2829" y="1770">Xinzha Rd.<tspan x="2829" dy="16">新闸路</tspan></text>
<text x="2762" y="1820">Natural History<tspan x="2762" dy="16">Museum</tspan><tspan x="2762" dy="16">自然博物馆</tspan></text>
<text x="2886" y="1845">People's Square<tspan x="2886" dy="16">人民广场</tspan></text>
<text x="2695" y="1847" class="e">West Nanjing Rd.<tspan x="2695" dy="16">南京西路</tspan></text>
<text x="3105" y="1896">East Nanjing Rd.<tspan x="3105" dy="16">南京东路</tspan></text>
<text x="3338" y="1928" class="e">Dongchang Rd.<tspan x="3338" dy="16">东昌路</tspan></text>
<text x="2735" y="1918" class="e">Middle Huaihai Rd.<tspan x="2735" dy="16">淮海中路</tspan></text>
<text x="2834" y="1933" class="m">South Huangpi Rd.<tspan x="2834" dy="16">黄陂南路</tspan></text>
<text x="2930" y="1936">Dashijie<tspan x="2930" dy="16">大世界</tspan></text>
<text x="3299" y="1974" class="e">Shangcheng Rd.<tspan x="3299" dy="16">商城路</tspan></text>
<text x="3085" y="1989">Yuyuan Garden<tspan x="3085" dy="16">豫园</tspan></text>
<text x="2931" y="2023">Laoximen<tspan x="2931" dy="16">老西门</tspan></text>
<text x="2642" y="2065" class="e">South Shaanxi Rd.<tspan x="2642" dy="16">陕西南路</tspan></text>
<text x="2739" y="2071">Xintiandi<tspan x="2739" dy="16">新天地</tspan></text>
<text x="3355" y="2099" class="e">Pudian Rd.<tspan x="3355" dy="16">浦电路</tspan></text>
<text x="2801" y="2109">Madang Rd.<tspan x="2801" dy="16">马当路</tspan></text>
<text x="2730" y="2119" class="m">Dapuqiao<tspan x="2730" dy="16">打浦桥</tspan></text>
<text x="2932" y="2116">Lujiabang Rd.<tspan x="2932" dy="16">陆家浜路</tspan></text>
<text x="3109" y="2146">Xiaonanmen<tspan x="3109" dy="16">小南门</tspan></text>
<text x="2600" y="2165" class="m">Jiashan Rd.<tspan x="2600" dy="16">嘉善路</tspan></text>
<text x="3383" y="2176">Lancun Rd.<tspan x="3383" dy="16">蓝村路</tspan></text>
<text x="3101" y="2198" class="m">Nanpu Bridge<tspan x="3101" dy="16">南浦大桥</tspan></text>
<text x="2742" y="2200" class="m">Luban Rd.<tspan x="2742" dy="16">鲁班路</tspan></text>
<text x="2933" y="2249">South Xizang Rd<tspan x="2933" dy="16">西藏南路</tspan></text>
<text x="3318" y="2250" class="m">Tangqiao<tspan x="3318" dy="16">塘桥</tspan></text>
<text x="2824" y="2271">World Expo<tspan x="2824" dy="16">Museum</tspan><tspan x="2824" dy="16">世博会博物馆</tspan></text>
<text x="3264" y="2309" class="m">Linyi Xincun<tspan x="3264" dy="16">临沂新村</tspan></text>
<text x="3090" y="2311">Nanmatou Rd.<tspan x="3090" dy="16">南码头路</tspan></text>
<text x="2798" y="2328" class="e">Shibo Avenue<tspan x="2798" dy="16">世博大道</tspan></text>
<text x="2926" y="2376">China Art Museum<tspan x="2926" dy="16">中华艺术宫</tspan></text>
<text x="3196" y="2403">West Gaoke Rd.<tspan x="3196" dy="16">高科西路</tspan></text>
<text x="2726" y="2450" class="e">Houtan<tspan x="2726" dy="16">后滩</tspan></text>
<text x="2817" y="2450">Changqing Rd.<tspan x="2817" dy="16">长清路</tspan></text>
<text x="2932" y="2450">Yaohua Rd.<tspan x="2932" dy="16">耀华路</tspan></text>
<text x="3059" y="2453" class="m">Yuntai Rd.<tspan x="3059" dy="16">云台路</tspan></text>
<text x="3383" y="2450" class="m">South Yanggao Rd.<tspan x="3383" dy="16">杨高南路</tspan></text>
<text x="2909" y="2514" class="e">Chengshan Rd.<tspan x="2909" dy="16">成山路</tspan></text>
<text x="3197" y="2516">Dongming Rd.<tspan x="3197" dy="16">东明路</tspan></text>
<text x="3360" y="2517" class="m">Huapeng Rd.<tspan x="3360" dy="16">华鹏路</tspan></text>
<text x="2726" y="2552" class="e">Dezhou Rd.<tspan x="2726" dy="16">德州路</tspan></text>
<text x="2929" y="2564">Yangsi<tspan x="2929" dy="16">杨思</tspan></text>
<text x="3197" y="2571">Gaoqing Rd.<tspan x="3197" dy="16">高青路</tspan></text>
<text x="2866" y="2627" class="m">South Lingyan Rd.<tspan x="2866" dy="16">灵岩南路</tspan></text>
<text x="2994" y="2627" class="m">Shangnan Rd.<tspan x="2994" dy="16">上南路</tspan></text>
<text x="3117" y="2627" class="m">West Huaxia Rd.<tspan x="3117" dy="16">华夏西路</tspan></text>
<text x="2723" y="2634" class="e">Oriental Sports Center<tspan x="2723" dy="16">东方体育中心</tspan></text>
<text x="3000" y="2715" class="m">Sanlin<tspan x="3000" dy="16">三林</tspan></text>
<text x="3256" y="2715" class="m">East Sanlin<tspan x="3256" dy="16">三林东</tspan></text>
<text x="2770" y="2741" class="e">Lingzhao Xincun<tspan x="2770" dy="16">凌兆新村</tspan></text>
<text x="2772" y="2839" class="e">Luheng Rd.<tspan x="2772" dy="16">芦恒路</tspan></text>
<text x="2559" y="2919" class="m">Wujing Gongshan Rd.<tspan x="2559" dy="16">吴泾贡山路</tspan></text>
<text x="2772" y="2967" class="e">Pujiang Town<tspan x="2772" dy="16">浦江镇</tspan></text>
</g>

<g>
<rect x="76" y="1632" width="610" height="357" rx="8" fill="#fff" stroke="#999" stroke-width="2"/>
<rect x="111" y="1674" width="59" height="12" fill="#f42e1a"/><rect x="111" y="1703" width="59" height="12" fill="#36b854"/><rect x="111" y="1734" width="59" height="12" fill="#ffd92a"/><rect x="111" y="1760" width="59" height="12" fill="#320f80"/><rect x="111" y="1789" width="59" height="12" fill="#8a2a96"/><rect x="111" y="1819" width="59" height="12" fill="#c4047f"/><rect x="111" y="1847" width="59" height="12" fill="#f65a0a"/><rect x="111" y="1874" width="59" height="12" fill="#0a8ac4"/><rect x="111" y="1906" width="59" height="12" fill="#92c3dc"/>
<rect x="302" y="1674" width="60" height="12" fill="#c8b4dc"/><rect x="302" y="1702" width="60" height="12" fill="#8f1a20"/><rect x="302" y="1733" width="60" height="12" fill="#1c5e5a"/><rect x="302" y="1765" width="60" height="12" fill="#f882bc"/><rect x="302" y="1789" width="60" height="12" fill="#827a0a"/><rect x="302" y="1820" width="60" height="12" fill="#bba98b"/><rect x="302" y="1847" width="60" height="12" fill="#9cd6bd"/><rect x="302" y="1875" width="60" height="12" fill="#bd6d60"/><rect x="302" y="1906" width="60" height="12" fill="#dcae70"/>
<rect x="492" y="1674" width="59" height="12" fill="#fcd09c"/><rect x="492" y="1704" width="59" height="12" fill="#1f4e78"/><rect x="492" y="1731" width="59" height="12" fill="#c89a5f"/><rect x="492" y="1764" width="59" height="12" fill="#b4ff2a"/><rect x="492" y="1789" width="59" height="12" fill="#fb8a52"/><rect x="492" y="1817" width="59" height="12" fill="#8890ee"/><rect x="492" y="1845" width="59" height="12" fill="#aaaaaa"/>
<g class="k"><text x="188" y="1685">Line 1</text><text x="188" y="1714">Line 2</text><text x="188" y="1745">Line 3</text><text x="188" y="1771">Line 4</text><text x="188" y="1800">Line 5</text><text x="188" y="1830">Line 6</text><text x="188" y="1858">Line 7</text><text x="188" y="1885">Line 8</text><text x="188" y="1917">Line 9</text>
<text x="378" y="1685">Line 10</text><text x="378" y="1713">Line 11</text><text x="378" y="1744">Line 12</text><text x="378" y="1774">Line 13</text><text x="378" y="1800">Line 14</text><text x="378" y="1831">Line 15</text><text x="378" y="1858">Line 16</text><text x="378" y="1886">Line 17</text><text x="378" y="1917">Line 18</text>
<text x="569" y="1685">Line 19</text><text x="569" y="1715">Line 20</text><text x="569" y="1742">Line 21</text><text x="569" y="1775">Line 23</text><text x="569" y="1800">Line 25</text><text x="569" y="1828">Line 26</text><text x="569" y="1856">Pujiang Line</text>
<text x="539" y="1884">Airport</text><text x="539" y="1918">Railway Station</text><text x="541" y="1952">Transfer Station</text><text x="154" y="1952">Ordinary Station</text><text x="352" y="1952">Terminal Station</text></g>
<use href="#a" x="503" y="1879"/><use href="#r" x="503" y="1913"/><use href="#x" x="504" y="1947"/><use href="#o" x="118" y="1947"/><use href="#t" x="317" y="1947"/>
</g>

<g class="w">
<text x="1720" y="1238">TravelChinaGuide.com</text><text x="2623" y="1238">TravelChinaGuide.com</text><text x="3918" y="1238">TravelChinaGuide.com</text>
<text x="1709" y="2047">TravelChinaGuide.com</text><text x="2624" y="2050">TravelChinaGuide.com</text><text x="3916" y="2051">TravelChinaGuide.com</text>
<text x="1702" y="2858">TravelChinaGuide.com</text><text x="2624" y="2858">TravelChinaGuide.com</text><text x="3916" y="2857">TravelChinaGuide.com</text>
</g>
</svg>
</body></html>
